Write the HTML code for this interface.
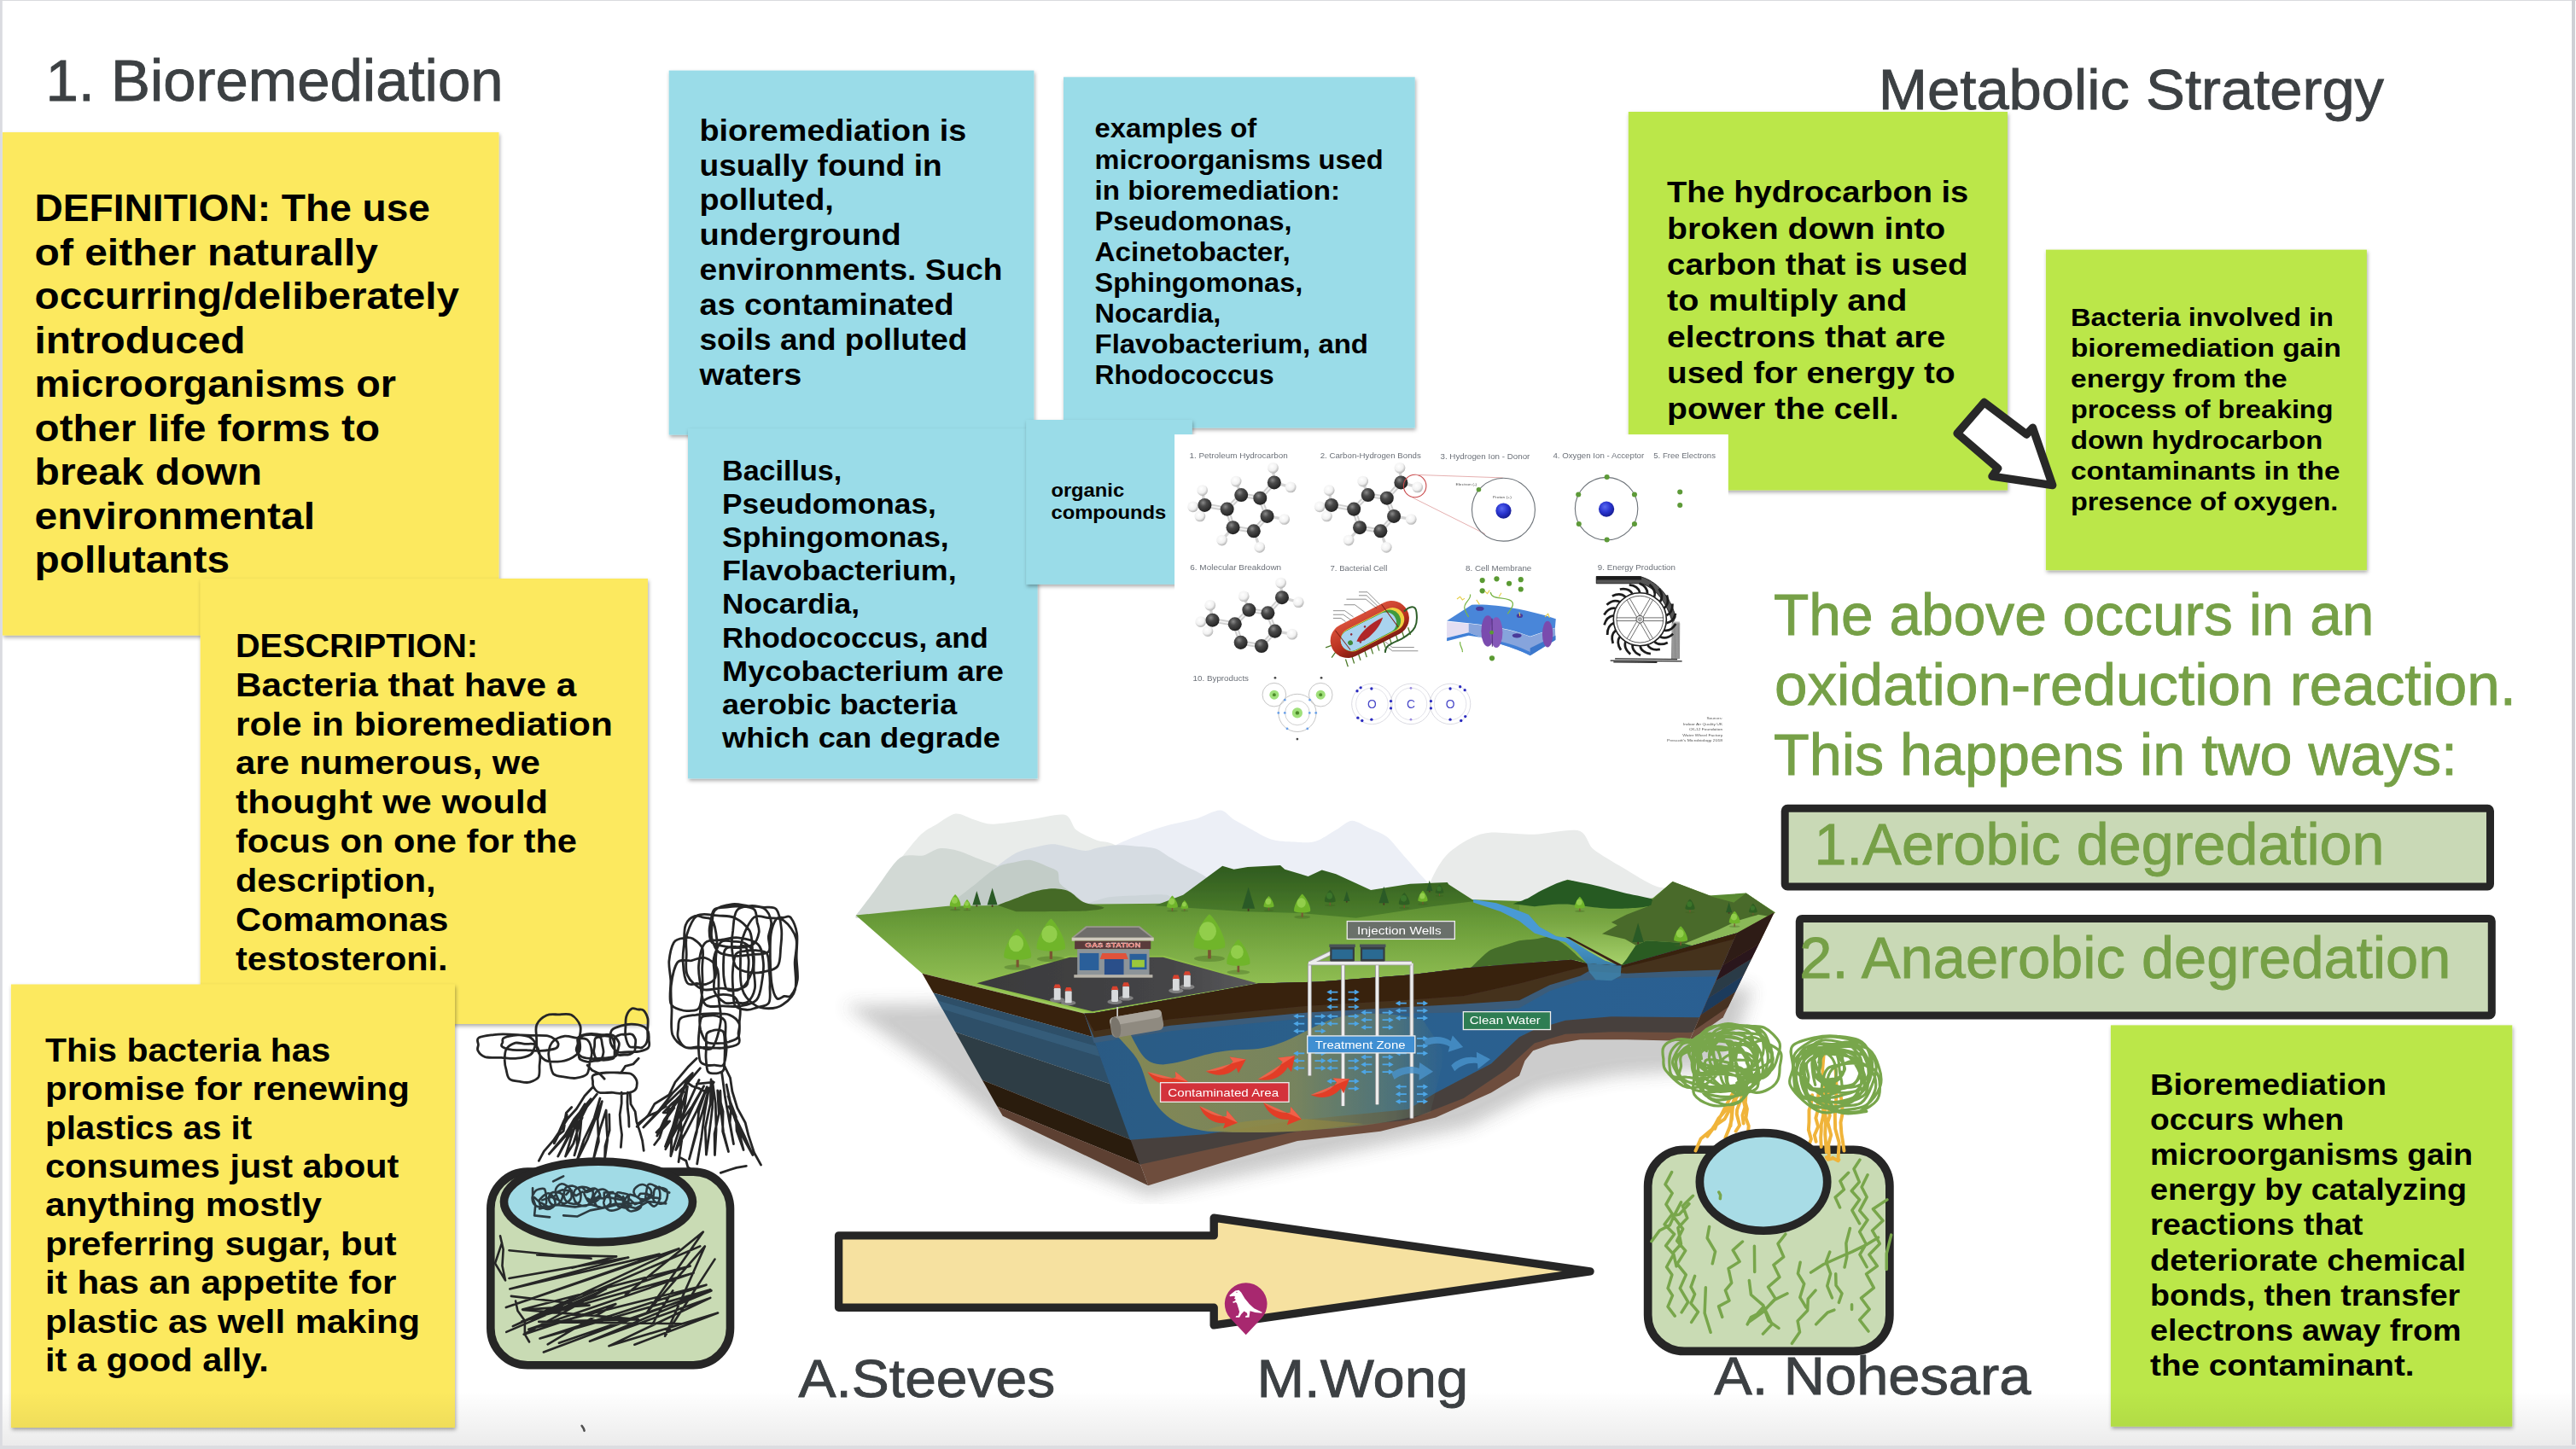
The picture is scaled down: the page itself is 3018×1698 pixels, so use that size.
<!DOCTYPE html>
<html><head><meta charset="utf-8"><title>Bioremediation</title>
<style>
html,body{margin:0;padding:0;background:#fff;}
body{width:3018px;height:1698px;overflow:hidden;position:relative;font-family:"Liberation Sans",sans-serif;}
svg{position:absolute;left:0;top:0;display:block;}
svg text{font-family:"Liberation Sans",sans-serif;}
</style></head><body>
<svg width="3018" height="1698" viewBox="0 0 3018 1698">
<defs>
<filter id="sh" x="-5%" y="-5%" width="112%" height="112%"><feDropShadow dx="1" dy="2.5" stdDeviation="2.2" flood-color="#000" flood-opacity="0.33"/></filter>
<linearGradient id="botfade" x1="0" y1="0" x2="0" y2="1"><stop offset="0" stop-color="#000" stop-opacity="0"/><stop offset="1" stop-color="#000" stop-opacity="0.08"/></linearGradient>

<radialGradient id="gC" cx="0.38" cy="0.32" r="0.75"><stop offset="0" stop-color="#8a8a8a"/><stop offset="0.35" stop-color="#4a4a4a"/><stop offset="1" stop-color="#1c1c1c"/></radialGradient>
<radialGradient id="gH" cx="0.4" cy="0.35" r="0.75"><stop offset="0" stop-color="#ffffff"/><stop offset="0.55" stop-color="#f1f1f1"/><stop offset="1" stop-color="#9c9c9c"/></radialGradient>
<radialGradient id="gN" cx="0.4" cy="0.35" r="0.7"><stop offset="0" stop-color="#5a6af0"/><stop offset="0.5" stop-color="#2a35d0"/><stop offset="1" stop-color="#141a8a"/></radialGradient>
<filter id="blr" x="-2%" y="-2%" width="104%" height="104%"><feGaussianBlur stdDeviation="1.6"/></filter>
<linearGradient id="gRed" x1="0" y1="0" x2="0" y2="1"><stop offset="0" stop-color="#d8503a"/><stop offset="0.6" stop-color="#b8301f"/><stop offset="1" stop-color="#7e1d12"/></linearGradient>

<linearGradient id="lgGrass" x1="0" y1="0" x2="0" y2="1"><stop offset="0" stop-color="#4f7f2c"/><stop offset="0.35" stop-color="#6c9e3a"/><stop offset="1" stop-color="#a3cf60"/></linearGradient>
<linearGradient id="lgHill" x1="0" y1="0" x2="0" y2="1"><stop offset="0" stop-color="#2f5a1e"/><stop offset="1" stop-color="#4d7f2c"/></linearGradient>
<linearGradient id="lgWater" x1="0" y1="0" x2="1" y2="0"><stop offset="0" stop-color="#2a5a84"/><stop offset="0.55" stop-color="#2b618f"/><stop offset="1" stop-color="#2c5f92"/></linearGradient>
<linearGradient id="lgPlume" x1="0" y1="0" x2="1" y2="0"><stop offset="0" stop-color="#8c8c50" stop-opacity="0.92"/><stop offset="0.55" stop-color="#848a56" stop-opacity="0.85"/><stop offset="0.85" stop-color="#6f8468" stop-opacity="0.5"/><stop offset="1" stop-color="#5c7f7a" stop-opacity="0"/></linearGradient>
<linearGradient id="lgAsph" x1="0" y1="0" x2="1" y2="0"><stop offset="0" stop-color="#3a3a3c"/><stop offset="0.7" stop-color="#454547"/><stop offset="1" stop-color="#5a5a5c"/></linearGradient>
<linearGradient id="lgGrass2" x1="0" y1="0" x2="0" y2="1"><stop offset="0" stop-color="#5b8c32"/><stop offset="0.5" stop-color="#7aa844"/><stop offset="1" stop-color="#a8d26c"/></linearGradient>
<linearGradient id="lgRiver" x1="0" y1="0" x2="0" y2="1"><stop offset="0" stop-color="#4a9ad6"/><stop offset="0.6" stop-color="#489ad2"/><stop offset="1" stop-color="#3a7ea8"/></linearGradient>
<filter id="lsh" x="-20%" y="-20%" width="140%" height="140%"><feGaussianBlur stdDeviation="22"/></filter>
<filter id="lbl" x="-2%" y="-2%" width="104%" height="104%"><feGaussianBlur stdDeviation="0.9"/></filter>

</defs>
<rect width="3018" height="1698" fill="#fff"/>
<!-- title1 -->
<text x="53.5" y="118.0" font-size="69" font-weight="normal" fill="#3c4043" textLength="536.0" lengthAdjust="spacingAndGlyphs" stroke="#3c4043" stroke-width="0.9">1. Bioremediation</text>
<!-- title2 -->
<text x="2200.8" y="127.5" font-size="67" font-weight="normal" fill="#3c4043" textLength="592.2" lengthAdjust="spacingAndGlyphs" stroke="#3c4043" stroke-width="0.9">Metabolic Stratergy</text>
<!-- y1 -->
<rect x="3.0" y="155.0" width="581.5" height="589.6" fill="#fce95f" filter="url(#sh)"/><text x="40.6" y="259.0" font-size="43.57" font-weight="bold" fill="#000" textLength="463.4" lengthAdjust="spacingAndGlyphs">DEFINITION: The use</text>
<text x="40.6" y="310.5" font-size="43.57" font-weight="bold" fill="#000" textLength="402.4" lengthAdjust="spacingAndGlyphs">of either naturally</text>
<text x="40.6" y="362.1" font-size="43.57" font-weight="bold" fill="#000" textLength="497.4" lengthAdjust="spacingAndGlyphs">occurring/deliberately</text>
<text x="40.6" y="413.6" font-size="43.57" font-weight="bold" fill="#000" textLength="246.9" lengthAdjust="spacingAndGlyphs">introduced</text>
<text x="40.6" y="465.2" font-size="43.57" font-weight="bold" fill="#000" textLength="423.4" lengthAdjust="spacingAndGlyphs">microorganisms or</text>
<text x="40.6" y="516.7" font-size="43.57" font-weight="bold" fill="#000" textLength="404.4" lengthAdjust="spacingAndGlyphs">other life forms to</text>
<text x="40.6" y="568.2" font-size="43.57" font-weight="bold" fill="#000" textLength="266.4" lengthAdjust="spacingAndGlyphs">break down</text>
<text x="40.6" y="619.8" font-size="43.57" font-weight="bold" fill="#000" textLength="328.4" lengthAdjust="spacingAndGlyphs">environmental</text>
<text x="40.6" y="671.3" font-size="43.57" font-weight="bold" fill="#000" textLength="228.4" lengthAdjust="spacingAndGlyphs">pollutants</text>
<!-- y2 -->
<rect x="234.7" y="678.0" width="524.3" height="522.0" fill="#fce95f" filter="url(#sh)"/><text x="276.0" y="769.8" font-size="38.62" font-weight="bold" fill="#000" textLength="284.0" lengthAdjust="spacingAndGlyphs">DESCRIPTION:</text>
<text x="276.0" y="815.7" font-size="38.62" font-weight="bold" fill="#000" textLength="399.3" lengthAdjust="spacingAndGlyphs">Bacteria that have a</text>
<text x="276.0" y="861.6" font-size="38.62" font-weight="bold" fill="#000" textLength="441.8" lengthAdjust="spacingAndGlyphs">role in bioremediation</text>
<text x="276.0" y="907.4" font-size="38.62" font-weight="bold" fill="#000" textLength="356.8" lengthAdjust="spacingAndGlyphs">are numerous, we</text>
<text x="276.0" y="953.3" font-size="38.62" font-weight="bold" fill="#000" textLength="366.0" lengthAdjust="spacingAndGlyphs">thought we would</text>
<text x="276.0" y="999.2" font-size="38.62" font-weight="bold" fill="#000" textLength="400.0" lengthAdjust="spacingAndGlyphs">focus on one for the</text>
<text x="276.0" y="1045.1" font-size="38.62" font-weight="bold" fill="#000" textLength="234.6" lengthAdjust="spacingAndGlyphs">description,</text>
<text x="276.0" y="1091.0" font-size="38.62" font-weight="bold" fill="#000" textLength="249.3" lengthAdjust="spacingAndGlyphs">Comamonas</text>
<text x="276.0" y="1136.8" font-size="38.62" font-weight="bold" fill="#000" textLength="248.5" lengthAdjust="spacingAndGlyphs">testosteroni.</text>
<!-- y3 -->
<rect x="12.9" y="1153.5" width="520.1" height="519.5" fill="#fce95f" filter="url(#sh)"/><text x="53.0" y="1243.7" font-size="38.42" font-weight="bold" fill="#000" textLength="334.3" lengthAdjust="spacingAndGlyphs">This bacteria has</text>
<text x="53.0" y="1289.1" font-size="38.42" font-weight="bold" fill="#000" textLength="426.8" lengthAdjust="spacingAndGlyphs">promise for renewing</text>
<text x="53.0" y="1334.5" font-size="38.42" font-weight="bold" fill="#000" textLength="242.2" lengthAdjust="spacingAndGlyphs">plastics as it</text>
<text x="53.0" y="1380.0" font-size="38.42" font-weight="bold" fill="#000" textLength="414.3" lengthAdjust="spacingAndGlyphs">consumes just about</text>
<text x="53.0" y="1425.4" font-size="38.42" font-weight="bold" fill="#000" textLength="324.1" lengthAdjust="spacingAndGlyphs">anything mostly</text>
<text x="53.0" y="1470.8" font-size="38.42" font-weight="bold" fill="#000" textLength="411.5" lengthAdjust="spacingAndGlyphs">preferring sugar, but</text>
<text x="53.0" y="1516.2" font-size="38.42" font-weight="bold" fill="#000" textLength="411.5" lengthAdjust="spacingAndGlyphs">it has an appetite for</text>
<text x="53.0" y="1561.6" font-size="38.42" font-weight="bold" fill="#000" textLength="439.0" lengthAdjust="spacingAndGlyphs">plastic as well making</text>
<text x="53.0" y="1607.1" font-size="38.42" font-weight="bold" fill="#000" textLength="261.8" lengthAdjust="spacingAndGlyphs">it a good ally.</text>
<!-- b1 -->
<rect x="783.7" y="82.6" width="427.7" height="427.0" fill="#9adce8" filter="url(#sh)"/><text x="819.5" y="164.7" font-size="34.51" font-weight="bold" fill="#000" textLength="312.7" lengthAdjust="spacingAndGlyphs">bioremediation is</text>
<text x="819.5" y="205.5" font-size="34.51" font-weight="bold" fill="#000" textLength="284.2" lengthAdjust="spacingAndGlyphs">usually found in</text>
<text x="819.5" y="246.4" font-size="34.51" font-weight="bold" fill="#000" textLength="157.3" lengthAdjust="spacingAndGlyphs">polluted,</text>
<text x="819.5" y="287.2" font-size="34.51" font-weight="bold" fill="#000" textLength="236.1" lengthAdjust="spacingAndGlyphs">underground</text>
<text x="819.5" y="328.0" font-size="34.51" font-weight="bold" fill="#000" textLength="355.0" lengthAdjust="spacingAndGlyphs">environments. Such</text>
<text x="819.5" y="368.8" font-size="34.51" font-weight="bold" fill="#000" textLength="298.1" lengthAdjust="spacingAndGlyphs">as contaminated</text>
<text x="819.5" y="409.7" font-size="34.51" font-weight="bold" fill="#000" textLength="313.8" lengthAdjust="spacingAndGlyphs">soils and polluted</text>
<text x="819.5" y="450.5" font-size="34.51" font-weight="bold" fill="#000" textLength="119.7" lengthAdjust="spacingAndGlyphs">waters</text>
<!-- b2 -->
<rect x="1246.0" y="90.3" width="411.7" height="411.2" fill="#9adce8" filter="url(#sh)"/><text x="1282.5" y="161.4" font-size="30.49" font-weight="bold" fill="#000" textLength="189.8" lengthAdjust="spacingAndGlyphs">examples of</text>
<text x="1282.5" y="197.5" font-size="30.49" font-weight="bold" fill="#000" textLength="338.0" lengthAdjust="spacingAndGlyphs">microorganisms used</text>
<text x="1282.5" y="233.6" font-size="30.49" font-weight="bold" fill="#000" textLength="287.5" lengthAdjust="spacingAndGlyphs">in bioremediation:</text>
<text x="1282.5" y="269.6" font-size="30.49" font-weight="bold" fill="#000" textLength="231.0" lengthAdjust="spacingAndGlyphs">Pseudomonas,</text>
<text x="1282.5" y="305.7" font-size="30.49" font-weight="bold" fill="#000" textLength="229.2" lengthAdjust="spacingAndGlyphs">Acinetobacter,</text>
<text x="1282.5" y="341.8" font-size="30.49" font-weight="bold" fill="#000" textLength="243.8" lengthAdjust="spacingAndGlyphs">Sphingomonas,</text>
<text x="1282.5" y="377.9" font-size="30.49" font-weight="bold" fill="#000" textLength="147.8" lengthAdjust="spacingAndGlyphs">Nocardia,</text>
<text x="1282.5" y="414.0" font-size="30.49" font-weight="bold" fill="#000" textLength="320.5" lengthAdjust="spacingAndGlyphs">Flavobacterium, and</text>
<text x="1282.5" y="450.0" font-size="30.49" font-weight="bold" fill="#000" textLength="210.2" lengthAdjust="spacingAndGlyphs">Rhodococcus</text>
<!-- b3 -->
<rect x="806.0" y="502.2" width="409.6" height="410.2" fill="#9adce8" filter="url(#sh)"/><text x="846.0" y="563.2" font-size="32.96" font-weight="bold" fill="#000" textLength="140.3" lengthAdjust="spacingAndGlyphs">Bacillus,</text>
<text x="846.0" y="602.2" font-size="32.96" font-weight="bold" fill="#000" textLength="250.8" lengthAdjust="spacingAndGlyphs">Pseudomonas,</text>
<text x="846.0" y="641.3" font-size="32.96" font-weight="bold" fill="#000" textLength="265.7" lengthAdjust="spacingAndGlyphs">Sphingomonas,</text>
<text x="846.0" y="680.4" font-size="32.96" font-weight="bold" fill="#000" textLength="274.6" lengthAdjust="spacingAndGlyphs">Flavobacterium,</text>
<text x="846.0" y="719.4" font-size="32.96" font-weight="bold" fill="#000" textLength="161.0" lengthAdjust="spacingAndGlyphs">Nocardia,</text>
<text x="846.0" y="758.5" font-size="32.96" font-weight="bold" fill="#000" textLength="311.8" lengthAdjust="spacingAndGlyphs">Rhodococcus, and</text>
<text x="846.0" y="797.5" font-size="32.96" font-weight="bold" fill="#000" textLength="329.9" lengthAdjust="spacingAndGlyphs">Mycobacterium are</text>
<text x="846.0" y="836.5" font-size="32.96" font-weight="bold" fill="#000" textLength="275.3" lengthAdjust="spacingAndGlyphs">aerobic bacteria</text>
<text x="846.0" y="875.6" font-size="32.96" font-weight="bold" fill="#000" textLength="326.0" lengthAdjust="spacingAndGlyphs">which can degrade</text>
<!-- b4 -->
<rect x="1202.2" y="492.0" width="194.6" height="192.8" fill="#9adce8" filter="url(#sh)"/><text x="1231.4" y="581.6" font-size="21.94" font-weight="bold" fill="#000" textLength="85.7" lengthAdjust="spacingAndGlyphs">organic</text>
<text x="1231.4" y="607.6" font-size="21.94" font-weight="bold" fill="#000" textLength="134.9" lengthAdjust="spacingAndGlyphs">compounds</text>
<!-- g1 -->
<rect x="1907.8" y="131.0" width="444.2" height="443.5" fill="#bbe74a" filter="url(#sh)"/><text x="1953.1" y="237.4" font-size="35.74" font-weight="bold" fill="#000" textLength="353.2" lengthAdjust="spacingAndGlyphs">The hydrocarbon is</text>
<text x="1953.1" y="279.7" font-size="35.74" font-weight="bold" fill="#000" textLength="326.2" lengthAdjust="spacingAndGlyphs">broken down into</text>
<text x="1953.1" y="321.9" font-size="35.74" font-weight="bold" fill="#000" textLength="352.3" lengthAdjust="spacingAndGlyphs">carbon that is used</text>
<text x="1953.1" y="364.2" font-size="35.74" font-weight="bold" fill="#000" textLength="281.4" lengthAdjust="spacingAndGlyphs">to multiply and</text>
<text x="1953.1" y="406.5" font-size="35.74" font-weight="bold" fill="#000" textLength="326.2" lengthAdjust="spacingAndGlyphs">electrons that are</text>
<text x="1953.1" y="448.8" font-size="35.74" font-weight="bold" fill="#000" textLength="337.5" lengthAdjust="spacingAndGlyphs">used for energy to</text>
<text x="1953.1" y="491.0" font-size="35.74" font-weight="bold" fill="#000" textLength="271.5" lengthAdjust="spacingAndGlyphs">power the cell.</text>
<!-- molecules -->
<g transform="translate(1370,500) scale(0.27606)" filter="url(#blr)"><rect x="22" y="33" width="2350" height="1400" fill="#fff"/><text x="85" y="133" font-size="33" fill="#6b7078" textLength="418" lengthAdjust="spacingAndGlyphs">1. Petroleum Hydrocarbon</text><text x="640" y="135" font-size="33" fill="#6b7078" textLength="428" lengthAdjust="spacingAndGlyphs">2. Carbon-Hydrogen Bonds</text><text x="1150" y="137" font-size="33" fill="#6b7078" textLength="380" lengthAdjust="spacingAndGlyphs">3. Hydrogen Ion - Donor</text><text x="1628" y="135" font-size="33" fill="#6b7078" textLength="387" lengthAdjust="spacingAndGlyphs">4. Oxygen Ion - Acceptor</text><text x="2055" y="135" font-size="33" fill="#6b7078" textLength="263" lengthAdjust="spacingAndGlyphs">5. Free Electrons</text><text x="88" y="610" font-size="33" fill="#6b7078" textLength="387" lengthAdjust="spacingAndGlyphs">6. Molecular Breakdown</text><text x="683" y="613" font-size="33" fill="#6b7078" textLength="242" lengthAdjust="spacingAndGlyphs">7. Bacterial Cell</text><text x="1257" y="613" font-size="33" fill="#6b7078" textLength="280" lengthAdjust="spacingAndGlyphs">8. Cell Membrane</text><text x="1818" y="608" font-size="33" fill="#6b7078" textLength="330" lengthAdjust="spacingAndGlyphs">9. Energy Production</text><text x="100" y="1080" font-size="33" fill="#6b7078" textLength="237" lengthAdjust="spacingAndGlyphs">10. Byproducts</text><g transform="translate(0,0)"><line x1="150" y1="333" x2="245" y2="350" stroke="#cfcfcf" stroke-width="20"/><line x1="150" y1="333" x2="245" y2="350" stroke="#f4f4f4" stroke-width="6"/><line x1="245" y1="350" x2="305" y2="290" stroke="#cfcfcf" stroke-width="20"/><line x1="245" y1="350" x2="305" y2="290" stroke="#f4f4f4" stroke-width="6"/><line x1="305" y1="290" x2="385" y2="303" stroke="#cfcfcf" stroke-width="20"/><line x1="305" y1="290" x2="385" y2="303" stroke="#f4f4f4" stroke-width="6"/><line x1="385" y1="303" x2="415" y2="380" stroke="#cfcfcf" stroke-width="20"/><line x1="385" y1="303" x2="415" y2="380" stroke="#f4f4f4" stroke-width="6"/><line x1="415" y1="380" x2="358" y2="443" stroke="#cfcfcf" stroke-width="20"/><line x1="415" y1="380" x2="358" y2="443" stroke="#f4f4f4" stroke-width="6"/><line x1="358" y1="443" x2="270" y2="428" stroke="#cfcfcf" stroke-width="20"/><line x1="358" y1="443" x2="270" y2="428" stroke="#f4f4f4" stroke-width="6"/><line x1="270" y1="428" x2="245" y2="350" stroke="#cfcfcf" stroke-width="20"/><line x1="270" y1="428" x2="245" y2="350" stroke="#f4f4f4" stroke-width="6"/><line x1="385" y1="303" x2="445" y2="237" stroke="#cfcfcf" stroke-width="20"/><line x1="385" y1="303" x2="445" y2="237" stroke="#f4f4f4" stroke-width="6"/><line x1="150" y1="333" x2="140" y2="270" stroke="#d4d4d4" stroke-width="12"/><line x1="150" y1="333" x2="100" y2="340" stroke="#d4d4d4" stroke-width="12"/><line x1="150" y1="333" x2="130" y2="380" stroke="#d4d4d4" stroke-width="12"/><line x1="305" y1="290" x2="283" y2="232" stroke="#d4d4d4" stroke-width="12"/><line x1="445" y1="237" x2="440" y2="175" stroke="#d4d4d4" stroke-width="12"/><line x1="445" y1="237" x2="515" y2="257" stroke="#d4d4d4" stroke-width="12"/><line x1="415" y1="380" x2="488" y2="393" stroke="#d4d4d4" stroke-width="12"/><line x1="358" y1="443" x2="383" y2="512" stroke="#d4d4d4" stroke-width="12"/><line x1="270" y1="428" x2="223" y2="482" stroke="#d4d4d4" stroke-width="12"/><circle cx="140" cy="270" r="23" fill="url(#gH)"/><circle cx="100" cy="340" r="23" fill="url(#gH)"/><circle cx="130" cy="380" r="23" fill="url(#gH)"/><circle cx="283" cy="232" r="23" fill="url(#gH)"/><circle cx="440" cy="175" r="23" fill="url(#gH)"/><circle cx="515" cy="257" r="23" fill="url(#gH)"/><circle cx="488" cy="393" r="23" fill="url(#gH)"/><circle cx="383" cy="512" r="23" fill="url(#gH)"/><circle cx="223" cy="482" r="23" fill="url(#gH)"/><circle cx="150" cy="333" r="29" fill="url(#gC)"/><circle cx="245" cy="350" r="29" fill="url(#gC)"/><circle cx="305" cy="290" r="29" fill="url(#gC)"/><circle cx="385" cy="303" r="29" fill="url(#gC)"/><circle cx="415" cy="380" r="29" fill="url(#gC)"/><circle cx="358" cy="443" r="29" fill="url(#gC)"/><circle cx="270" cy="428" r="29" fill="url(#gC)"/><circle cx="445" cy="237" r="29" fill="url(#gC)"/></g><g transform="translate(538,0)"><line x1="150" y1="333" x2="245" y2="350" stroke="#cfcfcf" stroke-width="20"/><line x1="150" y1="333" x2="245" y2="350" stroke="#f4f4f4" stroke-width="6"/><line x1="245" y1="350" x2="305" y2="290" stroke="#cfcfcf" stroke-width="20"/><line x1="245" y1="350" x2="305" y2="290" stroke="#f4f4f4" stroke-width="6"/><line x1="305" y1="290" x2="385" y2="303" stroke="#cfcfcf" stroke-width="20"/><line x1="305" y1="290" x2="385" y2="303" stroke="#f4f4f4" stroke-width="6"/><line x1="385" y1="303" x2="415" y2="380" stroke="#cfcfcf" stroke-width="20"/><line x1="385" y1="303" x2="415" y2="380" stroke="#f4f4f4" stroke-width="6"/><line x1="415" y1="380" x2="358" y2="443" stroke="#cfcfcf" stroke-width="20"/><line x1="415" y1="380" x2="358" y2="443" stroke="#f4f4f4" stroke-width="6"/><line x1="358" y1="443" x2="270" y2="428" stroke="#cfcfcf" stroke-width="20"/><line x1="358" y1="443" x2="270" y2="428" stroke="#f4f4f4" stroke-width="6"/><line x1="270" y1="428" x2="245" y2="350" stroke="#cfcfcf" stroke-width="20"/><line x1="270" y1="428" x2="245" y2="350" stroke="#f4f4f4" stroke-width="6"/><line x1="385" y1="303" x2="445" y2="237" stroke="#cfcfcf" stroke-width="20"/><line x1="385" y1="303" x2="445" y2="237" stroke="#f4f4f4" stroke-width="6"/><line x1="150" y1="333" x2="140" y2="270" stroke="#d4d4d4" stroke-width="12"/><line x1="150" y1="333" x2="100" y2="340" stroke="#d4d4d4" stroke-width="12"/><line x1="150" y1="333" x2="130" y2="380" stroke="#d4d4d4" stroke-width="12"/><line x1="305" y1="290" x2="283" y2="232" stroke="#d4d4d4" stroke-width="12"/><line x1="445" y1="237" x2="440" y2="175" stroke="#d4d4d4" stroke-width="12"/><line x1="445" y1="237" x2="515" y2="257" stroke="#d4d4d4" stroke-width="12"/><line x1="415" y1="380" x2="488" y2="393" stroke="#d4d4d4" stroke-width="12"/><line x1="358" y1="443" x2="383" y2="512" stroke="#d4d4d4" stroke-width="12"/><line x1="270" y1="428" x2="223" y2="482" stroke="#d4d4d4" stroke-width="12"/><circle cx="140" cy="270" r="23" fill="url(#gH)"/><circle cx="100" cy="340" r="23" fill="url(#gH)"/><circle cx="130" cy="380" r="23" fill="url(#gH)"/><circle cx="283" cy="232" r="23" fill="url(#gH)"/><circle cx="440" cy="175" r="23" fill="url(#gH)"/><circle cx="515" cy="257" r="23" fill="url(#gH)"/><circle cx="488" cy="393" r="23" fill="url(#gH)"/><circle cx="383" cy="512" r="23" fill="url(#gH)"/><circle cx="223" cy="482" r="23" fill="url(#gH)"/><circle cx="150" cy="333" r="29" fill="url(#gC)"/><circle cx="245" cy="350" r="29" fill="url(#gC)"/><circle cx="305" cy="290" r="29" fill="url(#gC)"/><circle cx="385" cy="303" r="29" fill="url(#gC)"/><circle cx="415" cy="380" r="29" fill="url(#gC)"/><circle cx="358" cy="443" r="29" fill="url(#gC)"/><circle cx="270" cy="428" r="29" fill="url(#gC)"/><circle cx="445" cy="237" r="29" fill="url(#gC)"/></g><g transform="translate(33,488)"><line x1="150" y1="333" x2="245" y2="350" stroke="#cfcfcf" stroke-width="20"/><line x1="150" y1="333" x2="245" y2="350" stroke="#f4f4f4" stroke-width="6"/><line x1="245" y1="350" x2="305" y2="290" stroke="#cfcfcf" stroke-width="20"/><line x1="245" y1="350" x2="305" y2="290" stroke="#f4f4f4" stroke-width="6"/><line x1="305" y1="290" x2="385" y2="303" stroke="#cfcfcf" stroke-width="20"/><line x1="305" y1="290" x2="385" y2="303" stroke="#f4f4f4" stroke-width="6"/><line x1="385" y1="303" x2="415" y2="380" stroke="#cfcfcf" stroke-width="20"/><line x1="385" y1="303" x2="415" y2="380" stroke="#f4f4f4" stroke-width="6"/><line x1="415" y1="380" x2="358" y2="443" stroke="#cfcfcf" stroke-width="20"/><line x1="415" y1="380" x2="358" y2="443" stroke="#f4f4f4" stroke-width="6"/><line x1="358" y1="443" x2="270" y2="428" stroke="#cfcfcf" stroke-width="20"/><line x1="358" y1="443" x2="270" y2="428" stroke="#f4f4f4" stroke-width="6"/><line x1="270" y1="428" x2="245" y2="350" stroke="#cfcfcf" stroke-width="20"/><line x1="270" y1="428" x2="245" y2="350" stroke="#f4f4f4" stroke-width="6"/><line x1="385" y1="303" x2="445" y2="237" stroke="#cfcfcf" stroke-width="20"/><line x1="385" y1="303" x2="445" y2="237" stroke="#f4f4f4" stroke-width="6"/><line x1="150" y1="333" x2="140" y2="270" stroke="#d4d4d4" stroke-width="12"/><line x1="150" y1="333" x2="100" y2="340" stroke="#d4d4d4" stroke-width="12"/><line x1="150" y1="333" x2="130" y2="380" stroke="#d4d4d4" stroke-width="12"/><line x1="305" y1="290" x2="283" y2="232" stroke="#d4d4d4" stroke-width="12"/><line x1="445" y1="237" x2="440" y2="175" stroke="#d4d4d4" stroke-width="12"/><line x1="445" y1="237" x2="515" y2="257" stroke="#d4d4d4" stroke-width="12"/><line x1="415" y1="380" x2="488" y2="393" stroke="#d4d4d4" stroke-width="12"/><circle cx="140" cy="270" r="23" fill="url(#gH)"/><circle cx="100" cy="340" r="23" fill="url(#gH)"/><circle cx="130" cy="380" r="23" fill="url(#gH)"/><circle cx="283" cy="232" r="23" fill="url(#gH)"/><circle cx="440" cy="175" r="23" fill="url(#gH)"/><circle cx="515" cy="257" r="23" fill="url(#gH)"/><circle cx="488" cy="393" r="23" fill="url(#gH)"/><circle cx="150" cy="333" r="29" fill="url(#gC)"/><circle cx="245" cy="350" r="29" fill="url(#gC)"/><circle cx="305" cy="290" r="29" fill="url(#gC)"/><circle cx="385" cy="303" r="29" fill="url(#gC)"/><circle cx="415" cy="380" r="29" fill="url(#gC)"/><circle cx="358" cy="443" r="29" fill="url(#gC)"/><circle cx="270" cy="428" r="29" fill="url(#gC)"/><circle cx="445" cy="237" r="29" fill="url(#gC)"/></g><circle cx="1042" cy="252" r="48" fill="none" stroke="#c9484a" stroke-width="4"/><path d="M1042,204 L1415,217 M1030,300 L1340,455" stroke="#e0a0a0" stroke-width="3" fill="none"/><circle cx="1418" cy="352" r="134" fill="none" stroke="#6d7379" stroke-width="4"/><circle cx="1418" cy="357" r="33" fill="url(#gN)"/><circle cx="1313" cy="267" r="10" fill="#5d9a38"/><text x="1215" y="250" font-size="15" fill="#555" textLength="90" lengthAdjust="spacingAndGlyphs">Electron (-)</text><text x="1372" y="306" font-size="15" fill="#555" textLength="80" lengthAdjust="spacingAndGlyphs">Proton (+)</text><circle cx="1855" cy="348" r="133" fill="none" stroke="#6d7379" stroke-width="4"/><circle cx="1855" cy="350" r="33" fill="url(#gN)"/><circle cx="1857" cy="214" r="11" fill="#5d9a38"/><circle cx="1974" cy="288" r="11" fill="#5d9a38"/><circle cx="1974" cy="413" r="11" fill="#5d9a38"/><circle cx="1857" cy="480" r="11" fill="#5d9a38"/><circle cx="1738" cy="413" r="11" fill="#5d9a38"/><circle cx="1736" cy="288" r="11" fill="#5d9a38"/><circle cx="2167" cy="277" r="11" fill="#5d9a38"/><circle cx="2167" cy="333" r="11" fill="#5d9a38"/><circle cx="445" cy="1138" r="50" fill="none" stroke="#b9b9b9" stroke-width="3"/><circle cx="445" cy="1138" r="20" fill="#9fe07a"/><circle cx="445" cy="1138" r="7" fill="#4d8a2a"/><circle cx="642" cy="1138" r="50" fill="none" stroke="#b9b9b9" stroke-width="3"/><circle cx="642" cy="1138" r="20" fill="#9fe07a"/><circle cx="642" cy="1138" r="7" fill="#4d8a2a"/><circle cx="543" cy="1215" r="80" fill="none" stroke="#b9b9b9" stroke-width="3"/><circle cx="543" cy="1215" r="52" fill="none" stroke="#c6c6c6" stroke-width="3"/><circle cx="543" cy="1215" r="22" fill="#9fe07a"/><circle cx="543" cy="1215" r="8" fill="#4d8a2a"/><circle cx="463" cy="1215" r="5" fill="#6aa0e8"/><circle cx="490" cy="1215" r="5" fill="#6aa0e8"/><circle cx="595" cy="1215" r="5" fill="#6aa0e8"/><circle cx="622" cy="1215" r="5" fill="#6aa0e8"/><circle cx="490" cy="1160" r="5" fill="#6aa0e8"/><circle cx="596" cy="1160" r="5" fill="#6aa0e8"/><circle cx="500" cy="1282" r="5" fill="#6aa0e8"/><circle cx="586" cy="1282" r="5" fill="#6aa0e8"/><circle cx="449" cy="1066" r="5" fill="#444"/><circle cx="645" cy="1066" r="5" fill="#444"/><circle cx="543" cy="1326" r="5" fill="#444"/><circle cx="860" cy="1177" r="86" fill="none" stroke="#d4d4dc" stroke-width="3"/><circle cx="860" cy="1177" r="68" fill="none" stroke="#dcdce4" stroke-width="3"/><text x="860" y="1195" font-size="50" fill="#4848c8" text-anchor="middle">O</text><circle cx="1025" cy="1177" r="86" fill="none" stroke="#d4d4dc" stroke-width="3"/><circle cx="1025" cy="1177" r="68" fill="none" stroke="#dcdce4" stroke-width="3"/><text x="1025" y="1195" font-size="50" fill="#4848c8" text-anchor="middle">C</text><circle cx="1192" cy="1177" r="86" fill="none" stroke="#d4d4dc" stroke-width="3"/><circle cx="1192" cy="1177" r="68" fill="none" stroke="#dcdce4" stroke-width="3"/><text x="1192" y="1195" font-size="50" fill="#4848c8" text-anchor="middle">O</text><circle cx="797" cy="1122" r="6" fill="#2a2ac0"/><circle cx="812" cy="1108" r="6" fill="#2a2ac0"/><circle cx="858" cy="1112" r="6" fill="#2a2ac0"/><circle cx="800" cy="1236" r="6" fill="#2a2ac0"/><circle cx="818" cy="1248" r="6" fill="#2a2ac0"/><circle cx="858" cy="1243" r="6" fill="#2a2ac0"/><circle cx="940" cy="1165" r="6" fill="#2a2ac0"/><circle cx="940" cy="1195" r="6" fill="#2a2ac0"/><circle cx="1110" cy="1165" r="6" fill="#2a2ac0"/><circle cx="1110" cy="1195" r="6" fill="#2a2ac0"/><circle cx="1192" cy="1112" r="6" fill="#2a2ac0"/><circle cx="1234" cy="1104" r="6" fill="#2a2ac0"/><circle cx="1254" cy="1118" r="6" fill="#2a2ac0"/><circle cx="1192" cy="1243" r="6" fill="#2a2ac0"/><circle cx="1238" cy="1248" r="6" fill="#2a2ac0"/><circle cx="1256" cy="1230" r="6" fill="#2a2ac0"/><circle cx="1025" cy="1110" r="5" fill="#9a8ae0"/><circle cx="1025" cy="1243" r="5" fill="#9a8ae0"/><text x="2280" y="1243.0" font-size="14" fill="#555" textLength="68" lengthAdjust="spacingAndGlyphs">Sources:</text><text x="2180" y="1266.5" font-size="14" fill="#555" textLength="168" lengthAdjust="spacingAndGlyphs">Indoor Air Quality UK</text><text x="2205" y="1290.0" font-size="14" fill="#555" textLength="143" lengthAdjust="spacingAndGlyphs">CK-12 Foundation</text><text x="2178" y="1313.5" font-size="14" fill="#555" textLength="170" lengthAdjust="spacingAndGlyphs">Water Wheel Factory</text><text x="2112" y="1337.0" font-size="14" fill="#555" textLength="236" lengthAdjust="spacingAndGlyphs">Prescott's Microbiology 2018</text></g><g transform="translate(1540,650) scale(0.18245)" filter="url(#blr)"><g transform="translate(355,480) rotate(-27)"><line x1="-225" y1="100" x2="-233" y2="150" stroke="#4d7a2a" stroke-width="7"/><line x1="-180" y1="100" x2="-188" y2="150" stroke="#4d7a2a" stroke-width="7"/><line x1="-135" y1="100" x2="-143" y2="150" stroke="#4d7a2a" stroke-width="7"/><line x1="-90" y1="100" x2="-98" y2="150" stroke="#4d7a2a" stroke-width="7"/><line x1="-45" y1="100" x2="-53" y2="150" stroke="#4d7a2a" stroke-width="7"/><line x1="0" y1="100" x2="-8" y2="150" stroke="#4d7a2a" stroke-width="7"/><line x1="45" y1="100" x2="37" y2="150" stroke="#4d7a2a" stroke-width="7"/><line x1="90" y1="100" x2="82" y2="150" stroke="#4d7a2a" stroke-width="7"/><line x1="135" y1="100" x2="127" y2="150" stroke="#4d7a2a" stroke-width="7"/><line x1="180" y1="100" x2="172" y2="150" stroke="#4d7a2a" stroke-width="7"/><line x1="225" y1="100" x2="217" y2="150" stroke="#4d7a2a" stroke-width="7"/><line x1="-260" y1="30" x2="-300" y2="50" stroke="#4d7a2a" stroke-width="7"/><line x1="-265" y1="-20" x2="-305" y2="-25" stroke="#4d7a2a" stroke-width="7"/><rect x="-270" y="-112" width="540" height="224" rx="112" fill="url(#gRed)"/><rect x="-205" y="-66" width="440" height="150" rx="75" fill="#f0d040"/><rect x="-205" y="-62" width="415" height="142" rx="71" fill="#3f9a3a"/><rect x="-205" y="-58" width="385" height="134" rx="67" fill="#a9d3ee"/><rect x="-205" y="-58" width="300" height="134" rx="67" fill="#a9d3ee"/><path d="M-110,30 C-60,-10 20,-35 110,-30 C80,0 40,25 -20,40 C-50,48 -90,50 -110,30Z" fill="#b0262a"/><circle cx="-150" cy="20" r="16" fill="#3f8a3a"/><circle cx="-120" cy="-25" r="7" fill="#8a2a3a"/><circle cx="-60" cy="40" r="7" fill="#8a2a3a"/><circle cx="-20" cy="-30" r="7" fill="#8a2a3a"/><circle cx="-90" cy="45" r="7" fill="#8a2a3a"/><path d="M-200,-95 L-170,60 M140,-110 L170,70" stroke="#7a2014" stroke-width="5" fill="none"/></g><path d="M575,365 C610,330 650,320 655,370 C665,450 650,490 560,540 C500,570 450,580 455,630" fill="none" stroke="#2f5f2a" stroke-width="11"/><path d="M285,240 L340,240 L420,320 M285,262 L335,262 L405,330 M205,286 L330,286 L400,345 M190,322 L260,322 L330,375 M120,360 L195,360 L250,400 M120,385 L185,385 L235,420 M120,408 L170,408 L200,430 M455,560 L500,595 L640,595 M465,590 L500,618 L665,618" fill="none" stroke="#333" stroke-width="3"/><path d="M850,425 L1010,322 C1100,315 1300,330 1550,412 L1545,470 L1385,525 C1300,490 1150,455 990,440 Z" fill="#4a86d9"/><path d="M850,430 L990,442 L990,500 L850,535 Z" fill="#e4def2"/><path d="M990,442 C1150,457 1300,492 1385,527 L1545,472 L1548,545 L1385,648 C1300,600 1150,565 990,500 Z" fill="#86a4dc"/><path d="M850,535 L990,500 C1150,565 1300,600 1385,648 L1385,625 C1300,580 1150,540 990,520 L850,555 Z" fill="#3f7fd6"/><path d="M1385,600 L1548,520 L1548,548 L1385,648Z" fill="#3b77cc"/><ellipse cx="1113" cy="490" rx="42" ry="100" fill="#7a4cae"/><ellipse cx="1168" cy="500" rx="40" ry="98" fill="#8558b8"/><path d="M1140,410 L1142,590" stroke="#54307e" stroke-width="6"/><ellipse cx="1497" cy="510" rx="34" ry="84" fill="#7a4cae"/><ellipse cx="1062" cy="347" rx="26" ry="14" fill="#4a3a9a"/><ellipse cx="1318" cy="392" rx="20" ry="14" fill="#4a3a9a"/><ellipse cx="1300" cy="520" rx="30" ry="14" fill="#4a3a9a"/><circle cx="1078" cy="165" r="17" fill="#5a9a32"/><circle cx="1170" cy="155" r="17" fill="#5a9a32"/><circle cx="1250" cy="185" r="17" fill="#5a9a32"/><circle cx="1325" cy="160" r="17" fill="#5a9a32"/><circle cx="1078" cy="232" r="17" fill="#5a9a32"/><circle cx="1325" cy="222" r="17" fill="#5a9a32"/><circle cx="1140" cy="665" r="17" fill="#5a9a32"/><circle cx="1138" cy="500" r="13" fill="#5a9a32"/><path d="M1000,255 C1010,290 950,310 965,350 C975,380 985,390 990,400 M1130,240 C1140,290 1200,270 1250,290 C1300,310 1260,350 1240,380 M935,560 C930,590 955,600 950,625" fill="none" stroke="#7ab648" stroke-width="7"/><path d="M915,285 L935,270 L950,290 L965,280 M1095,235 L1110,250 L1125,228 M1185,270 L1200,245 M1040,290 L1060,320 M1315,370 L1320,395 M1480,400 L1500,380 L1510,405" fill="none" stroke="#e6cf4a" stroke-width="6"/><path d="M1810,140 L2090,140 C2200,170 2280,260 2320,400 L2300,440 C2260,300 2190,215 2100,185 L1810,185 Z" fill="#555" stroke="#1e1e1e" stroke-width="5"/><path d="M2300,430 L2345,430 L2345,670 L2290,670 Z" fill="#b5b5b5"/><line x1="2296" y1="440" x2="2294" y2="668" stroke="#555" stroke-width="2.5"/><line x1="2303" y1="440" x2="2301" y2="668" stroke="#555" stroke-width="2.5"/><line x1="2310" y1="440" x2="2308" y2="668" stroke="#555" stroke-width="2.5"/><line x1="2317" y1="440" x2="2315" y2="668" stroke="#555" stroke-width="2.5"/><line x1="2324" y1="440" x2="2322" y2="668" stroke="#555" stroke-width="2.5"/><line x1="2331" y1="440" x2="2329" y2="668" stroke="#555" stroke-width="2.5"/><line x1="2338" y1="440" x2="2336" y2="668" stroke="#555" stroke-width="2.5"/><line x1="2345" y1="440" x2="2343" y2="668" stroke="#555" stroke-width="2.5"/><rect x="1810" y="140" width="290" height="22" fill="#1e1e1e"/><path d="M2260,439 Q2304,434 2319,378" fill="none" stroke="#1e1e1e" stroke-width="15"/><path d="M2247,486 Q2290,494 2320,444" fill="none" stroke="#1e1e1e" stroke-width="15"/><path d="M2220,527 Q2260,547 2303,508" fill="none" stroke="#1e1e1e" stroke-width="15"/><path d="M2183,559 Q2216,589 2268,564" fill="none" stroke="#1e1e1e" stroke-width="15"/><path d="M2139,580 Q2161,618 2219,608" fill="none" stroke="#1e1e1e" stroke-width="15"/><path d="M2091,587 Q2101,630 2159,636" fill="none" stroke="#1e1e1e" stroke-width="15"/><path d="M2042,580 Q2040,624 2094,647" fill="none" stroke="#1e1e1e" stroke-width="15"/><path d="M1997,560 Q1984,602 2029,639" fill="none" stroke="#1e1e1e" stroke-width="15"/><path d="M1960,528 Q1935,564 1968,612" fill="none" stroke="#1e1e1e" stroke-width="15"/><path d="M1934,487 Q1899,515 1917,570" fill="none" stroke="#1e1e1e" stroke-width="15"/><path d="M1920,440 Q1879,457 1881,515" fill="none" stroke="#1e1e1e" stroke-width="15"/><path d="M1920,391 Q1876,396 1861,452" fill="none" stroke="#1e1e1e" stroke-width="15"/><path d="M1933,344 Q1890,336 1860,386" fill="none" stroke="#1e1e1e" stroke-width="15"/><path d="M1960,303 Q1920,283 1877,322" fill="none" stroke="#1e1e1e" stroke-width="15"/><path d="M1997,271 Q1964,241 1912,266" fill="none" stroke="#1e1e1e" stroke-width="15"/><path d="M2041,250 Q2019,212 1961,222" fill="none" stroke="#1e1e1e" stroke-width="15"/><path d="M2089,243 Q2079,200 2021,194" fill="none" stroke="#1e1e1e" stroke-width="15"/><path d="M2138,250 Q2140,206 2086,183" fill="none" stroke="#1e1e1e" stroke-width="15"/><path d="M2183,270 Q2196,228 2151,191" fill="none" stroke="#1e1e1e" stroke-width="15"/><path d="M2220,302 Q2245,266 2212,218" fill="none" stroke="#1e1e1e" stroke-width="15"/><path d="M2246,343 Q2281,315 2263,260" fill="none" stroke="#1e1e1e" stroke-width="15"/><path d="M2260,390 Q2301,373 2299,315" fill="none" stroke="#1e1e1e" stroke-width="15"/><circle cx="2090" cy="415" r="170" fill="#fff" stroke="#1e1e1e" stroke-width="9"/><circle cx="2090" cy="415" r="150" fill="none" stroke="#1e1e1e" stroke-width="4"/><line x1="2112" y1="405" x2="2240" y2="405" stroke="#1e1e1e" stroke-width="3.5"/><line x1="2112" y1="425" x2="2240" y2="425" stroke="#1e1e1e" stroke-width="3.5"/><line x1="2110" y1="429" x2="2174" y2="540" stroke="#1e1e1e" stroke-width="3.5"/><line x1="2092" y1="439" x2="2156" y2="550" stroke="#1e1e1e" stroke-width="3.5"/><line x1="2088" y1="439" x2="2024" y2="550" stroke="#1e1e1e" stroke-width="3.5"/><line x1="2070" y1="429" x2="2006" y2="540" stroke="#1e1e1e" stroke-width="3.5"/><line x1="2068" y1="425" x2="1940" y2="425" stroke="#1e1e1e" stroke-width="3.5"/><line x1="2068" y1="405" x2="1940" y2="405" stroke="#1e1e1e" stroke-width="3.5"/><line x1="2070" y1="401" x2="2006" y2="290" stroke="#1e1e1e" stroke-width="3.5"/><line x1="2088" y1="391" x2="2024" y2="280" stroke="#1e1e1e" stroke-width="3.5"/><line x1="2092" y1="391" x2="2156" y2="280" stroke="#1e1e1e" stroke-width="3.5"/><line x1="2110" y1="401" x2="2174" y2="290" stroke="#1e1e1e" stroke-width="3.5"/><circle cx="2090" cy="415" r="24" fill="#ddd" stroke="#1e1e1e" stroke-width="4"/><circle cx="2090" cy="415" r="9" fill="none" stroke="#1e1e1e" stroke-width="3"/><path d="M1900,680 L2360,685 M1930,668 L2330,672 M1920,690 L2200,692" stroke="#1e1e1e" stroke-width="7" fill="none"/></g>
<!-- g2 -->
<rect x="2396.9" y="292.6" width="376.0" height="375.6" fill="#bbe74a" filter="url(#sh)"/><text x="2426.0" y="382.4" font-size="30.33" font-weight="bold" fill="#000" textLength="307.9" lengthAdjust="spacingAndGlyphs">Bacteria involved in</text>
<text x="2426.0" y="418.3" font-size="30.33" font-weight="bold" fill="#000" textLength="316.8" lengthAdjust="spacingAndGlyphs">bioremediation gain</text>
<text x="2426.0" y="454.2" font-size="30.33" font-weight="bold" fill="#000" textLength="253.6" lengthAdjust="spacingAndGlyphs">energy from the</text>
<text x="2426.0" y="490.0" font-size="30.33" font-weight="bold" fill="#000" textLength="307.4" lengthAdjust="spacingAndGlyphs">process of breaking</text>
<text x="2426.0" y="525.9" font-size="30.33" font-weight="bold" fill="#000" textLength="295.3" lengthAdjust="spacingAndGlyphs">down hydrocarbon</text>
<text x="2426.0" y="561.8" font-size="30.33" font-weight="bold" fill="#000" textLength="315.5" lengthAdjust="spacingAndGlyphs">contaminants in the</text>
<text x="2426.0" y="597.7" font-size="30.33" font-weight="bold" fill="#000" textLength="313.2" lengthAdjust="spacingAndGlyphs">presence of oxygen.</text>
<!-- arrow_s -->
<polygon points="2324.6,471.5 2374.3,509 2381.5,501.3 2404.7,568.6 2334,558.2 2340.6,548.8 2293.1,507.9" fill="#fff" stroke="#282828" stroke-width="9.4" stroke-linejoin="round"/>
<!-- gtext -->
<text x="2078.0" y="744.3" font-size="69" font-weight="normal" fill="#76a047" textLength="703.5" lengthAdjust="spacingAndGlyphs" stroke="#76a047" stroke-width="0.9">The above occurs in an</text>
<text x="2079.0" y="825.9" font-size="69" font-weight="normal" fill="#76a047" textLength="869.0" lengthAdjust="spacingAndGlyphs" stroke="#76a047" stroke-width="0.9">oxidation-reduction reaction.</text>
<text x="2078.0" y="907.5" font-size="69" font-weight="normal" fill="#76a047" textLength="801.0" lengthAdjust="spacingAndGlyphs" stroke="#76a047" stroke-width="0.9">This happens in two ways:</text>
<!-- box1 -->
<rect x="2091.2" y="947.3" width="826.3" height="91.6" rx="3" fill="#c9d9b6" stroke="#262626" stroke-width="9"/><text x="2125.4" y="1013.0" font-size="69" font-weight="normal" fill="#76a047" textLength="668.2" lengthAdjust="spacingAndGlyphs" stroke="#76a047" stroke-width="0.9">1.Aerobic degredation</text>
<!-- box2 -->
<rect x="2108.3" y="1076.4" width="811.0" height="113.6" rx="3" fill="#c9d9b6" stroke="#262626" stroke-width="9"/><text x="2108.3" y="1146.0" font-size="69" font-weight="normal" fill="#76a047" textLength="763.1" lengthAdjust="spacingAndGlyphs" stroke="#76a047" stroke-width="0.9">2. Anaerobic degredation</text>
<!-- g3 -->
<rect x="2472.9" y="1201.4" width="470.4" height="470.3" fill="#bbe74a" filter="url(#sh)"/><text x="2519.0" y="1283.0" font-size="34.71" font-weight="bold" fill="#000" textLength="277.0" lengthAdjust="spacingAndGlyphs">Bioremediation</text>
<text x="2519.0" y="1324.1" font-size="34.71" font-weight="bold" fill="#000" textLength="227.3" lengthAdjust="spacingAndGlyphs">occurs when</text>
<text x="2519.0" y="1365.2" font-size="34.71" font-weight="bold" fill="#000" textLength="378.2" lengthAdjust="spacingAndGlyphs">microorganisms gain</text>
<text x="2519.0" y="1406.3" font-size="34.71" font-weight="bold" fill="#000" textLength="371.0" lengthAdjust="spacingAndGlyphs">energy by catalyzing</text>
<text x="2519.0" y="1447.4" font-size="34.71" font-weight="bold" fill="#000" textLength="249.5" lengthAdjust="spacingAndGlyphs">reactions that</text>
<text x="2519.0" y="1488.5" font-size="34.71" font-weight="bold" fill="#000" textLength="370.0" lengthAdjust="spacingAndGlyphs">deteriorate chemical</text>
<text x="2519.0" y="1529.6" font-size="34.71" font-weight="bold" fill="#000" textLength="363.2" lengthAdjust="spacingAndGlyphs">bonds, then transfer</text>
<text x="2519.0" y="1570.7" font-size="34.71" font-weight="bold" fill="#000" textLength="364.6" lengthAdjust="spacingAndGlyphs">electrons away from</text>
<text x="2519.0" y="1611.8" font-size="34.71" font-weight="bold" fill="#000" textLength="309.6" lengthAdjust="spacingAndGlyphs">the contaminant.</text>
<!-- landscape -->
<g transform="translate(980,930) scale(0.43478)" filter="url(#lbl)"><g filter="url(#lsh)" opacity="0.30"><polygon points="20,570 260,740 520,960 840,1085 1300,985 1700,900 1900,800 2100,760 2400,740 2470,520 1800,560 600,560" fill="#555" /></g><path d="M52,329 C62,317 97,272 121,242 C145,211 200,140 221,117 C242,94 257,91 271,82 C285,73 307,56 321,54 C335,52 357,66 371,70 C385,74 400,82 421,82 C442,82 493,73 521,70 C549,66 597,53 615,57 C633,61 634,88 646,98 C658,108 687,120 702,126 C717,132 730,127 752,139 C775,151 825,191 858,210 C892,230 966,264 984,273 L984,335 L52,335 Z" fill="#e9ecea" opacity="1"/><path d="M671,186 C683,179 730,150 752,139 C775,127 808,115 827,107 C847,100 869,91 890,86 C910,80 950,73 971,67 C992,61 1019,44 1034,45 C1048,45 1058,62 1071,70 C1084,77 1107,90 1121,98 C1135,106 1155,118 1171,123 C1187,128 1217,130 1234,130 C1250,131 1274,134 1290,129 C1306,125 1332,106 1346,98 C1360,90 1376,73 1390,73 C1403,73 1426,89 1440,95 C1453,101 1470,106 1484,117 C1497,128 1518,156 1534,173 C1549,190 1574,219 1590,236 C1606,252 1638,278 1646,286 L1646,335 L671,335 Z" fill="#eceff6" opacity="1"/><path d="M1575,335 C1579,321 1591,264 1600,240 C1609,216 1626,186 1640,170 C1654,154 1683,134 1700,125 C1717,116 1734,107 1760,105 C1786,103 1846,111 1880,110 C1914,109 1977,94 2000,100 C2023,106 2023,136 2040,150 C2057,164 2096,186 2120,200 C2144,214 2184,241 2210,250 C2236,259 2283,250 2300,262 C2317,274 2326,325 2330,335 Z" fill="#e9ebea" /><path d="M52,329 C60,319 92,277 108,254 C125,232 153,186 171,173 C189,160 218,170 234,167 C249,163 264,150 277,148 C291,146 312,150 327,154 C342,158 368,170 384,176 C399,182 414,187 434,195 C453,202 496,216 521,229 C546,242 596,277 608,286 L608,335 L52,335 Z" fill="#d2d9d5" opacity="1"/><path d="M396,229 C401,224 421,205 434,195 C446,185 469,168 484,160 C498,153 519,148 534,145 C548,141 570,136 584,136 C597,136 615,142 627,145 C640,148 659,154 671,154 C683,154 697,147 708,145 C720,143 738,139 752,139 C767,138 793,140 808,142 C824,143 846,144 858,148 C871,152 885,164 896,170 C907,176 918,183 934,192 C949,200 986,216 1002,229 C1018,243 1040,277 1046,286 L1046,335 L396,335 Z" fill="#d6dce2" opacity="1"/><path d="M296,310 C300,307 309,295 321,286 C333,276 361,254 377,242 C393,229 419,206 434,198 C448,190 465,188 477,186 C490,183 508,178 521,179 C534,181 554,190 565,195 C575,199 591,204 596,210 C601,217 597,234 602,242 C608,250 625,260 634,267 C642,273 652,280 658,286 C665,291 675,302 677,304 L677,335 L296,335 Z" fill="#c2ccc7" opacity="1"/><path d="M646,304 C650,303 658,302 671,298 C684,294 713,283 734,279 C754,276 792,275 815,274 C837,273 876,270 890,273 C903,276 902,285 908,292 C915,299 930,319 934,323 L934,335 L646,335 Z" fill="#ccd4d8" opacity="1"/><polygon points="52,328 300,303 700,298 880,296 1100,300 1250,300 1400,310 1600,288 1720,286 1850,290 1970,232 2100,268 2190,290 2250,240 2350,275 2450,268 2530,320 2429,407 2120,462 2075,468 2030,478 1990,452 1700,470 1544,489 1300,507 1138,512 690,592 668,593 231,485" fill="url(#lgGrass)" /><path d="M434,301 C441,298 469,288 484,282 C498,277 519,267 534,264 C548,260 570,256 584,256 C597,256 616,258 627,264 C639,269 651,286 665,292 C678,298 720,304 721,307 C722,311 705,314 671,316 C637,317 510,318 484,318 Z" fill="#456b26" /><path d="M858,302 L934,273 L1040,195 L1071,204 L1108,198 L1196,193 L1208,204 L1271,223 L1308,206 L1346,217 L1440,260 L1546,243 L1646,239 L1650,245 L1720,290 L1600,305 L1400,335 L1250,322 L1100,318 Z" fill="url(#lgHill)" /><polygon points="1840,301 1964,297 2088,297 2203,281 2253,237 2364,279 2418,293 2451,268 2527,320 2426,376 2115,464 2071,450 2026,425 1972,390 1939,384 1894,359 1865,326 1840,316" fill="url(#lgGrass2)" /><path d="M1823,297 C1829,295 1854,286 1865,281 C1876,275 1888,267 1902,260 C1916,253 1949,237 1964,234 C1979,232 1993,238 2005,239 C2017,241 2029,243 2046,248 C2064,252 2107,264 2129,269 C2151,274 2190,280 2199,285 C2208,290 2207,300 2191,303 C2175,307 2120,311 2088,310 C2055,310 1993,299 1964,298 C1934,297 1893,303 1881,304 Z" fill="#255a22" /><polygon points="2199,285 2253,237 2306,257 2364,279 2418,293 2451,268 2527,320 2426,376 2319,413 2273,402 2183,396 2154,409 2125,392 2063,378 2104,355 2088,347 2129,326 2195,301" fill="#4a6b2a" /><polygon points="2284,405 2377,367 2426,343 2484,326 2509,330 2426,376 2319,413" fill="#8ab858" /><polygon points="2115,463 2129,446 2154,409 2183,396 2273,402 2319,413 2212,443" fill="#2c5c24" /><path d="M1704,475 C1711,468 1744,435 1757,425 C1771,416 1787,413 1799,409 C1811,405 1828,399 1840,396 C1852,394 1869,394 1881,392 C1893,391 1911,384 1923,386 C1934,388 1953,401 1964,409 C1974,416 1989,430 1997,438 C2005,445 2024,457 2022,458 C2019,460 2006,448 1980,448 C1954,448 1872,456 1840,458 C1808,461 1769,464 1757,464 Z" fill="#446e2a" /><polygon points="1716,285 1778,295 1840,316 1865,326 1894,359 1939,384 1972,390 2026,425 2071,450 2115,464 2022,458 1997,429 1964,400 1931,392 1881,376 1840,343 1790,318 1716,293" fill="url(#lgRiver)" /><polygon points="1964,386 1976,387 2117,462 2112,467" fill="#3a2415" /><polygon points="368,512 627,437 884,437 1144,512 690,592" fill="#8fbf4a" /><polygon points="378,511 629,441 880,441 1134,511 690,587" fill="url(#lgAsph)" /><polygon points="231,485 668,593 692,656 261,537" fill="#38200f" /><polygon points="261,537 692,656 739,783 320,642" fill="#2d4f68" /><polygon points="320,642 739,783 794,933 393,772" fill="#2e3d44" /><polygon points="393,772 794,933 819,1000 433,843" fill="#2b1a10" /><polygon points="433,843 819,1000 840,1056 448,869" fill="#5d4030" /><polygon points="272,558 701,681 711,709 285,581" fill="#3a6585" opacity="0.6"/><polygon points="668,593 690,592 1138,512 1300,507 1544,489 1700,470 1840,458 1980,448 2022,458 2114,464 2426,376 2306,648 2298,667 2129,663 2005,663 1923,677 1877,693 1855,720 1840,760 1764,806 1615,873 1466,910 1242,936 1045,993 840,1056" fill="#6e4e3e" /><polygon points="668,593 690,592 1138,512 1300,507 1544,489 1700,470 1840,458 1980,448 2022,458 2114,464 2426,376 2308,643 2294,644 2088,642 1964,648 1881,673 1840,710 1802,746 1690,821 1540,880 1242,910 1045,950 817,1000" fill="#47413d" /><polygon points="668,593 690,592 1138,512 1300,507 1544,489 1700,470 1840,458 1980,448 2022,458 2114,464 2426,376 2326,603 2088,601 1964,611 1881,636 1840,656 1764,728 1615,806 1540,851 1242,880 993,918 791,933" fill="url(#lgWater)" /><polygon points="668,593 690,592 1138,512 1300,507 1544,489 1700,470 1840,458 1980,448 2022,458 2114,464 2426,376 2374,493 2377,493 2253,495 2129,497 2005,504 1922,532 1840,578 1690,590 1540,592 1269,605 900,640 694,672" fill="#3a5c7a" /><polygon points="668,593 690,592 1138,512 1300,507 1544,489 1700,470 1840,458 1980,448 2022,458 2114,464 2426,376 2382,475 2377,475 2253,479 2129,485 2026,479 2005,491 1922,516 1840,557 1690,567 1540,575 1269,590 900,625 694,657" fill="#44301f" /><polygon points="668,593 690,592 1138,512 1300,507 1544,489 1700,470 1840,458 1980,448 2022,458 2114,464 2426,376 2418,392 2211,446 2114,470 2018,466 1964,479 1840,512 1690,545 1540,556 1269,572 900,608 694,640" fill="#38200f" /><polygon points="2022,457 2115,464 2113,491 2088,504 2046,502 2028,480" fill="#3d7fa6" opacity="0.92"/><polygon points="2426,376 2527,320 2389,603 2298,667" fill="#6e4e3e" /><polygon points="2426,376 2527,320 2486,405 2388,463" fill="#2f1d13" /><polygon points="2388,463 2486,405 2466,445 2370,504" fill="#2b171a" /><polygon points="2370,504 2466,445 2444,490 2349,551" fill="#2b3a46" /><polygon points="2349,551 2444,490 2422,535 2329,597" fill="#1f3a5b" /><polygon points="2329,597 2422,535 2403,575 2311,638" fill="#463024" /><path d="M745,640 L790,645 C820,700 830,730 880,730 C950,725 1000,690 1100,690 C1200,690 1250,640 1330,610 C1400,585 1500,590 1580,610 L1640,700 L1600,860 C1500,885 1400,900 1300,905 C1200,915 1080,915 1000,910 C920,900 880,870 850,820 C830,780 830,730 790,690 Z" fill="url(#lgPlume)" /><path d="M1000,905 C1080,880 1200,870 1300,880 L1420,890 L1300,905 C1200,915 1080,915 1000,905Z" fill="#a08f3a" opacity="0.45"/><line x1="757" y1="575" x2="757" y2="615" stroke="#ccc" stroke-width="4"/><g transform="rotate(-10 808 620)"><rect x="738" y="592" width="142" height="56" rx="14" fill="#8f8a80"/><rect x="738" y="592" width="142" height="22" rx="11" fill="#a8a39a"/><ellipse cx="752" cy="620" rx="13" ry="28" fill="#7a756c"/></g><line x1="1275" y1="457" x2="1275" y2="760" stroke="#9a9a9a" stroke-width="11"/><line x1="1275" y1="457" x2="1275" y2="760" stroke="#ececec" stroke-width="7"/><line x1="1365" y1="457" x2="1365" y2="842" stroke="#9a9a9a" stroke-width="11"/><line x1="1365" y1="457" x2="1365" y2="842" stroke="#ececec" stroke-width="7"/><line x1="1457" y1="457" x2="1457" y2="838" stroke="#9a9a9a" stroke-width="11"/><line x1="1457" y1="457" x2="1457" y2="838" stroke="#ececec" stroke-width="7"/><line x1="1550" y1="457" x2="1550" y2="875" stroke="#9a9a9a" stroke-width="11"/><line x1="1550" y1="457" x2="1550" y2="875" stroke="#ececec" stroke-width="7"/><path d="M1272,457 L1550,457 M1275,457 L1335,428" stroke="#9a9a9a" stroke-width="12" fill="none"/><path d="M1272,457 L1550,457 M1275,457 L1335,428" stroke="#ececec" stroke-width="8" fill="none"/><rect x="1330" y="408" width="66" height="44" rx="3" fill="#363d42"/><rect x="1335" y="420" width="56" height="26" fill="#2c6a92"/><rect x="1328" y="406" width="70" height="8" fill="#4a5257"/><rect x="1412" y="408" width="66" height="44" rx="3" fill="#363d42"/><rect x="1417" y="420" width="56" height="26" fill="#2c6a92"/><rect x="1410" y="406" width="70" height="8" fill="#4a5257"/><path d="M1261,600 L1235,600 M1244,595 L1235,600 L1244,605" stroke="#4ea6e6" stroke-width="4" fill="none"/><path d="M1289,600 L1315,600 M1306,595 L1315,600 L1306,605" stroke="#4ea6e6" stroke-width="4" fill="none"/><path d="M1261,620 L1235,620 M1244,615 L1235,620 L1244,625" stroke="#4ea6e6" stroke-width="4" fill="none"/><path d="M1289,620 L1315,620 M1306,615 L1315,620 L1306,625" stroke="#4ea6e6" stroke-width="4" fill="none"/><path d="M1261,640 L1235,640 M1244,635 L1235,640 L1244,645" stroke="#4ea6e6" stroke-width="4" fill="none"/><path d="M1289,640 L1315,640 M1306,635 L1315,640 L1306,645" stroke="#4ea6e6" stroke-width="4" fill="none"/><path d="M1261,700 L1235,700 M1244,695 L1235,700 L1244,705" stroke="#4ea6e6" stroke-width="4" fill="none"/><path d="M1289,700 L1315,700 M1306,695 L1315,700 L1306,705" stroke="#4ea6e6" stroke-width="4" fill="none"/><path d="M1261,720 L1235,720 M1244,715 L1235,720 L1244,725" stroke="#4ea6e6" stroke-width="4" fill="none"/><path d="M1289,720 L1315,720 M1306,715 L1315,720 L1306,725" stroke="#4ea6e6" stroke-width="4" fill="none"/><path d="M1261,740 L1235,740 M1244,735 L1235,740 L1244,745" stroke="#4ea6e6" stroke-width="4" fill="none"/><path d="M1289,740 L1315,740 M1306,735 L1315,740 L1306,745" stroke="#4ea6e6" stroke-width="4" fill="none"/><path d="M1351,535 L1325,535 M1334,530 L1325,535 L1334,540" stroke="#4ea6e6" stroke-width="4" fill="none"/><path d="M1379,535 L1405,535 M1396,530 L1405,535 L1396,540" stroke="#4ea6e6" stroke-width="4" fill="none"/><path d="M1351,555 L1325,555 M1334,550 L1325,555 L1334,560" stroke="#4ea6e6" stroke-width="4" fill="none"/><path d="M1379,555 L1405,555 M1396,550 L1405,555 L1396,560" stroke="#4ea6e6" stroke-width="4" fill="none"/><path d="M1351,575 L1325,575 M1334,570 L1325,575 L1334,580" stroke="#4ea6e6" stroke-width="4" fill="none"/><path d="M1379,575 L1405,575 M1396,570 L1405,575 L1396,580" stroke="#4ea6e6" stroke-width="4" fill="none"/><path d="M1351,600 L1325,600 M1334,595 L1325,600 L1334,605" stroke="#4ea6e6" stroke-width="4" fill="none"/><path d="M1379,600 L1405,600 M1396,595 L1405,600 L1396,605" stroke="#4ea6e6" stroke-width="4" fill="none"/><path d="M1351,620 L1325,620 M1334,615 L1325,620 L1334,625" stroke="#4ea6e6" stroke-width="4" fill="none"/><path d="M1379,620 L1405,620 M1396,615 L1405,620 L1396,625" stroke="#4ea6e6" stroke-width="4" fill="none"/><path d="M1351,720 L1325,720 M1334,715 L1325,720 L1334,725" stroke="#4ea6e6" stroke-width="4" fill="none"/><path d="M1379,720 L1405,720 M1396,715 L1405,720 L1396,725" stroke="#4ea6e6" stroke-width="4" fill="none"/><path d="M1351,740 L1325,740 M1334,735 L1325,740 L1334,745" stroke="#4ea6e6" stroke-width="4" fill="none"/><path d="M1379,740 L1405,740 M1396,735 L1405,740 L1396,745" stroke="#4ea6e6" stroke-width="4" fill="none"/><path d="M1351,775 L1325,775 M1334,770 L1325,775 L1334,780" stroke="#4ea6e6" stroke-width="4" fill="none"/><path d="M1379,775 L1405,775 M1396,770 L1405,775 L1396,780" stroke="#4ea6e6" stroke-width="4" fill="none"/><path d="M1351,795 L1325,795 M1334,790 L1325,795 L1334,800" stroke="#4ea6e6" stroke-width="4" fill="none"/><path d="M1379,795 L1405,795 M1396,790 L1405,795 L1396,800" stroke="#4ea6e6" stroke-width="4" fill="none"/><path d="M1443,590 L1417,590 M1426,585 L1417,590 L1426,595" stroke="#4ea6e6" stroke-width="4" fill="none"/><path d="M1471,590 L1497,590 M1488,585 L1497,590 L1488,595" stroke="#4ea6e6" stroke-width="4" fill="none"/><path d="M1443,610 L1417,610 M1426,605 L1417,610 L1426,615" stroke="#4ea6e6" stroke-width="4" fill="none"/><path d="M1471,610 L1497,610 M1488,605 L1497,610 L1488,615" stroke="#4ea6e6" stroke-width="4" fill="none"/><path d="M1443,630 L1417,630 M1426,625 L1417,630 L1426,635" stroke="#4ea6e6" stroke-width="4" fill="none"/><path d="M1471,630 L1497,630 M1488,625 L1497,630 L1488,635" stroke="#4ea6e6" stroke-width="4" fill="none"/><path d="M1443,710 L1417,710 M1426,705 L1417,710 L1426,715" stroke="#4ea6e6" stroke-width="4" fill="none"/><path d="M1471,710 L1497,710 M1488,705 L1497,710 L1488,715" stroke="#4ea6e6" stroke-width="4" fill="none"/><path d="M1443,730 L1417,730 M1426,725 L1417,730 L1426,735" stroke="#4ea6e6" stroke-width="4" fill="none"/><path d="M1471,730 L1497,730 M1488,725 L1497,730 L1488,735" stroke="#4ea6e6" stroke-width="4" fill="none"/><path d="M1443,750 L1417,750 M1426,745 L1417,750 L1426,755" stroke="#4ea6e6" stroke-width="4" fill="none"/><path d="M1471,750 L1497,750 M1488,745 L1497,750 L1488,755" stroke="#4ea6e6" stroke-width="4" fill="none"/><path d="M1536,565 L1510,565 M1519,560 L1510,565 L1519,570" stroke="#4ea6e6" stroke-width="4" fill="none"/><path d="M1564,565 L1590,565 M1581,560 L1590,565 L1581,570" stroke="#4ea6e6" stroke-width="4" fill="none"/><path d="M1536,585 L1510,585 M1519,580 L1510,585 L1519,590" stroke="#4ea6e6" stroke-width="4" fill="none"/><path d="M1564,585 L1590,585 M1581,580 L1590,585 L1581,590" stroke="#4ea6e6" stroke-width="4" fill="none"/><path d="M1536,605 L1510,605 M1519,600 L1510,605 L1519,610" stroke="#4ea6e6" stroke-width="4" fill="none"/><path d="M1564,605 L1590,605 M1581,600 L1590,605 L1581,610" stroke="#4ea6e6" stroke-width="4" fill="none"/><path d="M1536,660 L1510,660 M1519,655 L1510,660 L1519,665" stroke="#4ea6e6" stroke-width="4" fill="none"/><path d="M1564,660 L1590,660 M1581,655 L1590,660 L1581,665" stroke="#4ea6e6" stroke-width="4" fill="none"/><path d="M1536,680 L1510,680 M1519,675 L1510,680 L1519,685" stroke="#4ea6e6" stroke-width="4" fill="none"/><path d="M1564,680 L1590,680 M1581,675 L1590,680 L1581,685" stroke="#4ea6e6" stroke-width="4" fill="none"/><path d="M1536,700 L1510,700 M1519,695 L1510,700 L1519,705" stroke="#4ea6e6" stroke-width="4" fill="none"/><path d="M1564,700 L1590,700 M1581,695 L1590,700 L1581,705" stroke="#4ea6e6" stroke-width="4" fill="none"/><path d="M1536,790 L1510,790 M1519,785 L1510,790 L1519,795" stroke="#4ea6e6" stroke-width="4" fill="none"/><path d="M1564,790 L1590,790 M1581,785 L1590,790 L1581,795" stroke="#4ea6e6" stroke-width="4" fill="none"/><path d="M1536,810 L1510,810 M1519,805 L1510,810 L1519,815" stroke="#4ea6e6" stroke-width="4" fill="none"/><path d="M1564,810 L1590,810 M1581,805 L1590,810 L1581,815" stroke="#4ea6e6" stroke-width="4" fill="none"/><path d="M1536,830 L1510,830 M1519,825 L1510,830 L1519,835" stroke="#4ea6e6" stroke-width="4" fill="none"/><path d="M1564,830 L1590,830 M1581,825 L1590,830 L1581,835" stroke="#4ea6e6" stroke-width="4" fill="none"/><path transform="translate(1585,655) rotate(8) scale(0.95)" d="M0,8 C25,-8 55,-8 75,2 L78,-14 L112,14 L72,34 L74,18 C55,10 28,12 6,26 Z" fill="#4a94cc" opacity="0.8"/><path transform="translate(1655,725) rotate(-12) scale(0.95)" d="M0,8 C25,-8 55,-8 75,2 L78,-14 L112,14 L72,34 L74,18 C55,10 28,12 6,26 Z" fill="#4a94cc" opacity="0.8"/><path transform="translate(1495,745) rotate(-5) scale(1.0)" d="M0,8 C25,-8 55,-8 75,2 L78,-14 L112,14 L72,34 L74,18 C55,10 28,12 6,26 Z" fill="#4a94cc" opacity="0.8"/><path transform="translate(838,750) rotate(8) scale(0.95)" d="M0,0 C30,14 60,14 82,4 L78,-12 L118,12 L84,40 L84,24 C55,36 22,28 0,0 Z" fill="#e23d28"/><path transform="translate(838,750) rotate(8) scale(0.95)" d="M0,0 C30,14 60,14 82,4 L78,-12 L118,12 Z" fill="#f0624a"/><path transform="translate(995,748) rotate(-22) scale(0.95)" d="M0,0 C30,14 60,14 82,4 L78,-12 L118,12 L84,40 L84,24 C55,36 22,28 0,0 Z" fill="#e23d28"/><path transform="translate(995,748) rotate(-22) scale(0.95)" d="M0,0 C30,14 60,14 82,4 L78,-12 L118,12 Z" fill="#f0624a"/><path transform="translate(1135,770) rotate(-38) scale(1.0)" d="M0,0 C30,14 60,14 82,4 L78,-12 L118,12 L84,40 L84,24 C55,36 22,28 0,0 Z" fill="#e23d28"/><path transform="translate(1135,770) rotate(-38) scale(1.0)" d="M0,0 C30,14 60,14 82,4 L78,-12 L118,12 Z" fill="#f0624a"/><path transform="translate(978,842) rotate(18) scale(0.95)" d="M0,0 C30,14 60,14 82,4 L78,-12 L118,12 L84,40 L84,24 C55,36 22,28 0,0 Z" fill="#e23d28"/><path transform="translate(978,842) rotate(18) scale(0.95)" d="M0,0 C30,14 60,14 82,4 L78,-12 L118,12 Z" fill="#f0624a"/><path transform="translate(1150,832) rotate(18) scale(0.95)" d="M0,0 C30,14 60,14 82,4 L78,-12 L118,12 L84,40 L84,24 C55,36 22,28 0,0 Z" fill="#e23d28"/><path transform="translate(1150,832) rotate(18) scale(0.95)" d="M0,0 C30,14 60,14 82,4 L78,-12 L118,12 Z" fill="#f0624a"/><path transform="translate(1278,812) rotate(-28) scale(0.95)" d="M0,0 C30,14 60,14 82,4 L78,-12 L118,12 L84,40 L84,24 C55,36 22,28 0,0 Z" fill="#e23d28"/><path transform="translate(1278,812) rotate(-28) scale(0.95)" d="M0,0 C30,14 60,14 82,4 L78,-12 L118,12 Z" fill="#f0624a"/><polygon points="634,388 672,357 817,357 855,388" fill="#9a968f" /><polygon points="640,388 675,361 814,361 849,388" fill="#6e6c6a" /><rect x="634" y="388" width="221" height="9" fill="#cfc9bd"/><rect x="642" y="397" width="205" height="22" fill="#5a3a3a"/><text x="745" y="415" font-size="18" font-weight="bold" fill="#f04a3a" text-anchor="middle" textLength="150" lengthAdjust="spacingAndGlyphs" stroke="#fff" stroke-width="0.6">GAS STATION</text><rect x="649" y="419" width="194" height="72" fill="#8d9499"/><rect x="655" y="430" width="52" height="46" fill="#2b5f9a"/><rect x="790" y="432" width="46" height="42" fill="#2b5f9a"/><rect x="796" y="448" width="34" height="20" fill="#9ac83a"/><rect x="722" y="445" width="52" height="46" fill="#2a4f8a"/><path d="M716,430 L780,430 L786,446 L710,446 Z" fill="#e0523a"/><rect x="640" y="488" width="212" height="8" fill="#b8b4aa"/><ellipse cx="595" cy="556" rx="20" ry="7" fill="#9a9a9a" opacity="0.7"/><rect x="586" y="524" width="18" height="32" rx="3" fill="#d8dadc"/><path d="M585,524 L605,524 L601,514 L589,514Z" fill="#d8432f"/><ellipse cx="625" cy="564" rx="20" ry="7" fill="#9a9a9a" opacity="0.7"/><rect x="616" y="532" width="18" height="32" rx="3" fill="#d8dadc"/><path d="M615,532 L635,532 L631,522 L619,522Z" fill="#d8432f"/><ellipse cx="750" cy="561" rx="20" ry="7" fill="#9a9a9a" opacity="0.7"/><rect x="741" y="529" width="18" height="32" rx="3" fill="#d8dadc"/><path d="M740,529 L760,529 L756,519 L744,519Z" fill="#d8432f"/><ellipse cx="780" cy="551" rx="20" ry="7" fill="#9a9a9a" opacity="0.7"/><rect x="771" y="519" width="18" height="32" rx="3" fill="#d8dadc"/><path d="M770,519 L790,519 L786,509 L774,509Z" fill="#d8432f"/><ellipse cx="915" cy="531" rx="20" ry="7" fill="#9a9a9a" opacity="0.7"/><rect x="906" y="499" width="18" height="32" rx="3" fill="#d8dadc"/><path d="M905,499 L925,499 L921,489 L909,489Z" fill="#d8432f"/><ellipse cx="945" cy="521" rx="20" ry="7" fill="#9a9a9a" opacity="0.7"/><rect x="936" y="489" width="18" height="32" rx="3" fill="#d8dadc"/><path d="M935,489 L955,489 L951,479 L939,479Z" fill="#d8432f"/><ellipse cx="488" cy="468.0" rx="36.0" ry="7.199999999999999" fill="#3b5f1f" opacity="0.35"/><rect x="484.4" y="422.0" width="7.199999999999999" height="46.0" fill="#7a5530"/><path d="M488,364.0 C502.0,374.0 530.0,424.0 524.0,442.0 C504.0,450.0 472.0,450.0 452.0,442.0 C446.0,424.0 474.0,374.0 488,364.0Z" fill="#6fb52c"/><ellipse cx="484.0" cy="404.0" rx="20.0" ry="22.0" fill="#9bd455" opacity="0.8"/><ellipse cx="578" cy="445.9" rx="37.800000000000004" ry="7.56" fill="#3b5f1f" opacity="0.35"/><rect x="574.22" y="397.6" width="7.56" height="48.3" fill="#7a5530"/><path d="M578,336.7 C592.7,347.2 622.1,399.7 615.8,418.6 C594.8,427.0 561.2,427.0 540.2,418.6 C533.9,399.7 563.3,347.2 578,336.7Z" fill="#6fb52c"/><ellipse cx="573.8" cy="378.7" rx="21.0" ry="23.1" fill="#9bd455" opacity="0.8"/><ellipse cx="1005" cy="444.7" rx="41.4" ry="8.28" fill="#3b5f1f" opacity="0.35"/><rect x="1000.86" y="391.8" width="8.28" height="52.9" fill="#7a5530"/><path d="M1005,325.1 C1021.1,336.6 1053.3,394.1 1046.4,414.8 C1023.4,424.0 986.6,424.0 963.6,414.8 C956.7,394.1 988.9,336.6 1005,325.1Z" fill="#6fb52c"/><ellipse cx="1000.4" cy="371.1" rx="23.0" ry="25.3" fill="#9bd455" opacity="0.8"/><ellipse cx="1083" cy="481.3" rx="30.6" ry="6.12" fill="#3b5f1f" opacity="0.35"/><rect x="1079.94" y="442.2" width="6.12" height="39.099999999999994" fill="#7a5530"/><path d="M1083,392.9 C1094.9,401.4 1118.7,443.9 1113.6,459.2 C1096.6,466.0 1069.4,466.0 1052.4,459.2 C1047.3,443.9 1071.1,401.4 1083,392.9Z" fill="#6fb52c"/><ellipse cx="1079.6" cy="426.9" rx="17.0" ry="18.700000000000003" fill="#9bd455" opacity="0.8"/><ellipse cx="320" cy="313.2" rx="14.4" ry="2.88" fill="#3b5f1f" opacity="0.35"/><rect x="318.56" y="294.8" width="2.88" height="18.4" fill="#7a5530"/><path d="M320,271.6 C325.6,275.6 336.8,295.6 334.4,302.8 C326.4,306.0 313.6,306.0 305.6,302.8 C303.2,295.6 314.4,275.6 320,271.6Z" fill="#6fb52c"/><ellipse cx="318.4" cy="287.6" rx="8.0" ry="8.8" fill="#9bd455" opacity="0.8"/><ellipse cx="352" cy="313.95" rx="9.9" ry="1.98" fill="#3b5f1f" opacity="0.35"/><rect x="351.01" y="301.3" width="1.98" height="12.649999999999999" fill="#7a5530"/><path d="M352,285.35 C355.85,288.1 363.55,301.85 361.9,306.8 C356.4,309.0 347.6,309.0 342.1,306.8 C340.45,301.85 348.15,288.1 352,285.35Z" fill="#6fb52c"/><ellipse cx="350.9" cy="296.35" rx="5.5" ry="6.050000000000001" fill="#9bd455" opacity="0.8"/><ellipse cx="905" cy="316.2" rx="14.4" ry="2.88" fill="#3b5f1f" opacity="0.35"/><rect x="903.56" y="297.8" width="2.88" height="18.4" fill="#7a5530"/><path d="M905,274.6 C910.6,278.6 921.8,298.6 919.4,305.8 C911.4,309.0 898.6,309.0 890.6,305.8 C888.2,298.6 899.4,278.6 905,274.6Z" fill="#6fb52c"/><ellipse cx="903.4" cy="290.6" rx="8.0" ry="8.8" fill="#9bd455" opacity="0.8"/><ellipse cx="938" cy="315.95" rx="9.9" ry="1.98" fill="#3b5f1f" opacity="0.35"/><rect x="937.01" y="303.3" width="1.98" height="12.649999999999999" fill="#7a5530"/><path d="M938,287.35 C941.85,290.1 949.55,303.85 947.9,308.8 C942.4,311.0 933.6,311.0 928.1,308.8 C926.45,303.85 934.15,290.1 938,287.35Z" fill="#6fb52c"/><ellipse cx="936.9" cy="298.35" rx="5.5" ry="6.050000000000001" fill="#9bd455" opacity="0.8"/><ellipse cx="1165" cy="314.75" rx="13.5" ry="2.6999999999999997" fill="#3b5f1f" opacity="0.35"/><rect x="1163.65" y="297.5" width="2.6999999999999997" height="17.25" fill="#7a5530"/><path d="M1165,275.75 C1170.25,279.5 1180.75,298.25 1178.5,305.0 C1171.0,308.0 1159.0,308.0 1151.5,305.0 C1149.25,298.25 1159.75,279.5 1165,275.75Z" fill="#6fb52c"/><ellipse cx="1163.5" cy="290.75" rx="7.5" ry="8.25" fill="#9bd455" opacity="0.8"/><ellipse cx="1255" cy="332.8" rx="21.6" ry="4.32" fill="#3b5f1f" opacity="0.35"/><rect x="1252.84" y="305.2" width="4.32" height="27.599999999999998" fill="#7a5530"/><path d="M1255,270.4 C1263.4,276.4 1280.2,306.4 1276.6,317.2 C1264.6,322.0 1245.4,322.0 1233.4,317.2 C1229.8,306.4 1246.6,276.4 1255,270.4Z" fill="#6fb52c"/><ellipse cx="1252.6" cy="294.4" rx="12.0" ry="13.200000000000001" fill="#9bd455" opacity="0.8"/><ellipse cx="1580" cy="298.3" rx="12.6" ry="2.52" fill="#3b5f1f" opacity="0.35"/><rect x="1578.74" y="282.2" width="2.52" height="16.099999999999998" fill="#7a5530"/><path d="M1580,261.9 C1584.9,265.4 1594.7,282.9 1592.6,289.2 C1585.6,292.0 1574.4,292.0 1567.4,289.2 C1565.3,282.9 1575.1,265.4 1580,261.9Z" fill="#6fb52c"/><ellipse cx="1578.6" cy="275.9" rx="7.0" ry="7.700000000000001" fill="#9bd455" opacity="0.8"/><ellipse cx="2003" cy="316.75" rx="13.5" ry="2.6999999999999997" fill="#3b5f1f" opacity="0.35"/><rect x="2001.65" y="299.5" width="2.6999999999999997" height="17.25" fill="#7a5530"/><path d="M2003,277.75 C2008.25,281.5 2018.75,300.25 2016.5,307.0 C2009.0,310.0 1997.0,310.0 1989.5,307.0 C1987.25,300.25 1997.75,281.5 2003,277.75Z" fill="#6fb52c"/><ellipse cx="2001.5" cy="292.75" rx="7.5" ry="8.25" fill="#9bd455" opacity="0.8"/><ellipse cx="2275" cy="409.0" rx="18.0" ry="3.5999999999999996" fill="#3b5f1f" opacity="0.35"/><rect x="2273.2" y="386.0" width="3.5999999999999996" height="23.0" fill="#7a5530"/><path d="M2275,357.0 C2282.0,362.0 2296.0,387.0 2293.0,396.0 C2283.0,400.0 2267.0,400.0 2257.0,396.0 C2254.0,387.0 2268.0,362.0 2275,357.0Z" fill="#6fb52c"/><ellipse cx="2273.0" cy="377.0" rx="10.0" ry="11.0" fill="#9bd455" opacity="0.8"/><ellipse cx="2420" cy="358.2" rx="14.4" ry="2.88" fill="#3b5f1f" opacity="0.35"/><rect x="2418.56" y="339.8" width="2.88" height="18.4" fill="#7a5530"/><path d="M2420,316.6 C2425.6,320.6 2436.8,340.6 2434.4,347.8 C2426.4,351.0 2413.6,351.0 2405.6,347.8 C2403.2,340.6 2414.4,320.6 2420,316.6Z" fill="#6fb52c"/><ellipse cx="2418.4" cy="332.6" rx="8.0" ry="8.8" fill="#9bd455" opacity="0.8"/><path d="M378,262 L389.4,300 L366.6,300 Z" fill="#2c5a27"/><rect x="376" y="300" width="4" height="4.56" fill="#4a3520"/><path d="M420,254 L433.8,300 L406.2,300 Z" fill="#2c5a27"/><rect x="418" y="300" width="4" height="5.52" fill="#4a3520"/><path d="M1110,252 L1127.4,310 L1092.6,310 Z" fill="#2c5a27"/><rect x="1108" y="310" width="4" height="6.96" fill="#4a3520"/><path d="M1375,262 L1383.4,290 L1366.6,290 Z" fill="#2c5a27"/><rect x="1373" y="290" width="4" height="3.36" fill="#4a3520"/><path d="M1475,250 L1488.5,295 L1461.5,295 Z" fill="#2c5a27"/><rect x="1473" y="295" width="4" height="5.3999999999999995" fill="#4a3520"/><path d="M1598,234 L1606.4,262 L1589.6,262 Z" fill="#2c5a27"/><rect x="1596" y="262" width="4" height="3.36" fill="#4a3520"/><path d="M2160,348 L2175.6,400 L2144.4,400 Z" fill="#2c5a27"/><rect x="2158" y="400" width="4" height="6.24" fill="#4a3520"/><path d="M2405,292 L2413.4,320 L2396.6,320 Z" fill="#2c5a27"/><rect x="2403" y="320" width="4" height="3.36" fill="#4a3520"/><ellipse cx="1330" cy="301.2" rx="14.4" ry="2.88" fill="#3b5f1f" opacity="0.35"/><rect x="1328.56" y="282.8" width="2.88" height="18.4" fill="#7a5530"/><path d="M1330,259.6 C1335.6,263.6 1346.8,283.6 1344.4,290.8 C1336.4,294.0 1323.6,294.0 1315.6,290.8 C1313.2,283.6 1324.4,263.6 1330,259.6Z" fill="#2f5f22"/><ellipse cx="1328.4" cy="275.6" rx="8.0" ry="8.8" fill="#3f7a2d" opacity="0.8"/><ellipse cx="1530" cy="308.2" rx="14.4" ry="2.88" fill="#3b5f1f" opacity="0.35"/><rect x="1528.56" y="289.8" width="2.88" height="18.4" fill="#7a5530"/><path d="M1530,266.6 C1535.6,270.6 1546.8,290.6 1544.4,297.8 C1536.4,301.0 1523.6,301.0 1515.6,297.8 C1513.2,290.6 1524.4,270.6 1530,266.6Z" fill="#2f5f22"/><ellipse cx="1528.4" cy="282.6" rx="8.0" ry="8.8" fill="#3f7a2d" opacity="0.8"/><ellipse cx="1625" cy="275.4" rx="10.8" ry="2.16" fill="#3b5f1f" opacity="0.35"/><rect x="1623.92" y="261.6" width="2.16" height="13.799999999999999" fill="#7a5530"/><path d="M1625,244.2 C1629.2,247.2 1637.6,262.2 1635.8,267.6 C1629.8,270.0 1620.2,270.0 1614.2,267.6 C1612.4,262.2 1620.8,247.2 1625,244.2Z" fill="#2f5f22"/><ellipse cx="1623.8" cy="256.2" rx="6.0" ry="6.6000000000000005" fill="#3f7a2d" opacity="0.8"/><ellipse cx="2300" cy="320.3" rx="12.6" ry="2.52" fill="#3b5f1f" opacity="0.35"/><rect x="2298.74" y="304.2" width="2.52" height="16.099999999999998" fill="#7a5530"/><path d="M2300,283.9 C2304.9,287.4 2314.7,304.9 2312.6,311.2 C2305.6,314.0 2294.4,314.0 2287.4,311.2 C2285.3,304.9 2295.1,287.4 2300,283.9Z" fill="#2f5f22"/><ellipse cx="2298.6" cy="297.9" rx="7.0" ry="7.700000000000001" fill="#3f7a2d" opacity="0.8"/><ellipse cx="2470" cy="327.4" rx="10.8" ry="2.16" fill="#3b5f1f" opacity="0.35"/><rect x="2468.92" y="313.6" width="2.16" height="13.799999999999999" fill="#7a5530"/><path d="M2470,296.2 C2474.2,299.2 2482.6,314.2 2480.8,319.6 C2474.8,322.0 2465.2,322.0 2459.2,319.6 C2457.4,314.2 2465.8,299.2 2470,296.2Z" fill="#2f5f22"/><ellipse cx="2468.8" cy="308.2" rx="6.0" ry="6.6000000000000005" fill="#3f7a2d" opacity="0.8"/><rect x="1376" y="344" width="290" height="48" fill="#6a6f6b" stroke="#eee" stroke-width="3"/><text x="1403" y="380" font-size="31" fill="#fff" textLength="227" lengthAdjust="spacingAndGlyphs">Injection Wells</text><rect x="1689" y="588" width="235" height="48" fill="#2f7d52" stroke="#eee" stroke-width="3"/><text x="1706" y="622" font-size="31" fill="#fff" textLength="191" lengthAdjust="spacingAndGlyphs">Clean Water</text><rect x="1269" y="653" width="290" height="46" fill="#3f8fd2" stroke="#eee" stroke-width="3"/><text x="1290" y="688" font-size="31" fill="#fff" textLength="243" lengthAdjust="spacingAndGlyphs">Treatment Zone</text><rect x="873" y="779" width="346" height="52" fill="#d3303a" stroke="#eee" stroke-width="3"/><text x="893" y="817" font-size="31" fill="#fff" textLength="299" lengthAdjust="spacingAndGlyphs">Contaminated Area</text></g>
<!-- doodle_l -->
<g transform="translate(540,1040) scale(0.40038)" fill="none" stroke-linecap="round" stroke-linejoin="round"><rect x="87" y="832" width="701" height="566" rx="108" fill="#c9dbb4" stroke="#262626" stroke-width="24"/><ellipse cx="402" cy="920" rx="276" ry="118" fill="#a1dbe6" stroke="#262626" stroke-width="24"/><path d="M734,149 C731,136 734,122 735,108 C737,94 734,75 744,66 C754,56 778,51 794,49 C810,47 824,52 840,54 C856,56 877,54 888,62 C900,70 906,88 908,101 C910,115 902,129 900,143 C899,158 909,179 900,188 C891,197 863,195 847,197 C830,199 817,202 802,200 C786,199 765,198 754,189 C743,181 738,163 734,149 M760,295 C741,295 723,304 707,298 C691,292 670,274 663,257 C655,240 660,215 660,195 C660,176 656,157 661,138 C667,119 677,91 692,82 C707,73 732,81 750,82 C768,84 786,82 802,89 C818,97 836,112 845,127 C853,143 852,166 853,185 C854,204 859,224 853,242 C847,261 834,288 818,296 C802,305 778,294 760,295 M977,220 C977,245 984,278 978,299 C973,319 958,332 944,341 C931,351 915,354 900,354 C885,354 868,351 856,341 C843,332 829,318 823,297 C817,277 817,244 818,220 C818,195 817,171 824,149 C831,127 845,98 857,88 C870,78 886,88 900,89 C915,91 932,87 945,97 C959,107 976,130 981,150 C986,171 978,196 977,220 M634,219 C644,207 661,216 675,214 C688,211 703,201 715,206 C728,210 744,220 751,240 C757,259 753,296 754,321 C756,347 763,368 760,393 C757,417 746,457 736,469 C725,481 708,467 695,466 C682,466 668,473 655,467 C643,461 626,449 619,431 C613,413 617,383 617,359 C616,335 613,311 615,288 C618,264 624,232 634,219 M715,342 C704,331 703,299 700,279 C697,260 694,246 696,226 C698,207 703,174 715,162 C726,150 747,156 763,153 C779,151 794,145 811,147 C829,149 857,154 869,166 C882,178 883,202 885,220 C887,238 884,256 881,274 C878,293 876,317 865,329 C854,341 834,344 818,347 C801,350 784,348 767,347 C750,346 726,354 715,342 M830,163 C840,168 851,177 856,191 C860,204 856,227 857,245 C858,262 863,281 860,296 C857,311 848,328 839,335 C830,342 815,337 804,337 C793,337 782,342 772,337 C762,331 747,318 742,305 C737,291 743,272 742,255 C742,239 737,224 740,207 C743,191 753,167 762,159 C772,151 785,158 796,158 C807,159 820,158 830,163 M791,173 C798,171 803,174 810,174 C817,174 827,167 833,173 C838,179 840,199 842,211 C843,223 841,233 841,245 C840,257 842,274 838,283 C835,291 826,293 819,296 C813,300 806,302 800,302 C793,302 783,304 777,297 C772,290 771,273 769,261 C768,249 768,238 768,225 C769,212 768,193 772,184 C776,175 785,175 791,173 M923,64 C932,74 936,104 938,122 C940,140 938,155 936,173 C934,191 936,218 927,230 C918,243 898,243 885,247 C871,250 860,252 847,249 C834,247 814,244 805,232 C796,220 795,196 793,178 C792,161 793,144 796,126 C798,108 798,80 807,68 C815,56 833,56 846,54 C858,52 869,56 882,58 C895,60 914,53 923,64 M684,84 C693,80 701,86 710,88 C719,90 730,86 736,97 C743,107 747,134 749,153 C751,171 747,188 746,206 C745,225 749,251 744,264 C739,277 726,280 717,283 C708,286 699,282 690,281 C681,281 669,289 662,279 C655,269 651,239 650,220 C648,201 651,183 653,165 C654,146 652,122 658,109 C663,95 675,87 684,84 M905,208 C905,184 904,156 907,137 C910,117 917,100 923,92 C929,84 937,89 944,88 C951,88 958,80 965,88 C971,96 980,115 983,134 C986,153 982,180 982,202 C982,225 987,251 985,269 C982,288 973,308 966,316 C960,324 953,317 946,318 C939,320 930,331 924,324 C918,318 912,298 909,279 C906,259 906,231 905,208 M815,393 C815,407 817,427 812,437 C807,446 794,448 784,452 C774,455 764,456 753,456 C743,456 728,459 719,452 C710,446 705,429 701,416 C698,403 698,390 699,376 C700,363 701,345 707,335 C713,326 726,323 736,319 C746,316 756,313 767,313 C778,313 791,314 800,320 C808,327 814,342 817,355 C819,367 816,380 815,393 M636,413 C637,404 635,389 643,383 C651,376 671,375 687,373 C702,370 720,369 737,369 C753,369 773,368 786,373 C798,378 810,389 814,398 C818,407 812,417 812,427 C811,436 820,450 812,457 C804,464 780,468 764,470 C747,471 731,468 713,468 C696,468 673,473 660,469 C647,465 640,451 636,441 C632,432 635,423 636,413 M817,176 C804,177 791,176 778,173 C764,171 745,169 736,162 C728,155 727,140 727,129 C726,119 729,109 731,98 C734,87 734,70 742,64 C751,57 770,59 783,57 C796,56 807,54 820,55 C832,56 851,57 859,65 C866,73 865,91 867,102 C870,113 874,121 872,132 C870,142 865,159 856,166 C846,174 830,175 817,176 M652,148 C661,146 670,145 679,150 C688,156 702,164 707,179 C711,193 706,218 706,237 C706,257 708,276 707,295 C705,314 704,341 697,352 C691,363 677,360 668,361 C659,362 652,362 643,358 C633,355 619,353 614,339 C609,325 614,294 614,273 C613,253 608,234 609,216 C611,197 616,173 623,161 C630,150 642,149 652,148 M795,250 C796,234 798,207 804,196 C810,185 823,188 833,186 C843,184 853,183 863,184 C873,186 889,183 895,193 C902,203 901,228 902,244 C904,260 905,275 904,291 C904,306 907,328 901,338 C895,348 877,348 867,351 C856,354 848,359 837,358 C827,357 809,356 802,345 C796,335 798,311 796,295 C795,279 794,267 795,250 M719,429 C722,422 730,421 736,419 C741,417 746,416 751,417 C756,418 765,416 768,423 C772,430 772,447 772,459 C773,471 772,482 772,495 C771,507 772,525 769,533 C766,541 759,541 754,543 C749,544 744,545 739,544 C734,544 726,545 722,537 C719,530 718,512 717,500 C716,488 718,477 718,465 C718,454 716,437 719,429 M704,381 C709,373 720,376 728,375 C735,374 741,373 749,376 C757,379 769,381 773,392 C777,402 773,423 774,437 C775,451 778,461 777,475 C776,489 774,512 768,519 C762,527 750,520 742,520 C734,520 727,522 720,520 C713,518 704,517 700,508 C696,499 696,477 695,463 C695,449 695,438 697,424 C698,411 699,389 704,381 M690,500 L664,526 L627,570 L609,607 L567,633 L548,667 L515,700 M770,520 L788,557 L794,597 L809,646 L832,688 L841,724 L858,776 L878,812 M700,529 L652,585 L595,640 L534,702 L581,651 L621,600 L678,543 L643,607 L608,659 L574,727 L595,680 L636,623 L661,565 L639,630 L620,700 L598,758 L626,704 L645,647 L663,582 L653,652 L635,721 L614,786 L617,726 L633,664 L644,613 L643,672 L646,741 L637,803 M697,563 L663,638 L634,701 L599,766 L628,707 L677,640 L711,581 L679,641 L651,701 L629,768 L659,715 L690,654 L720,584 L696,655 L690,716 L668,795 L687,721 L706,660 L726,587 L713,661 L704,731 L691,809 M732,562 L730,632 L715,703 L718,782 L728,709 L736,644 L736,568 L745,632 L747,709 L743,783 L742,721 L755,662 L751,594 L767,655 L766,714 L783,773 L768,715 L761,655 L759,595 M763,539 L773,614 L786,687 L798,751 L787,688 L791,641 L777,577 L790,643 L811,704 L827,768 L807,712 L805,671 L782,611 L799,664 L829,726 L854,783 L824,729 L811,690 L784,641 M652,598 L630,622 L618,632 L592,659 L604,659 L608,649 L624,645 L605,671 L598,690 L572,717 L592,705 L596,689 L611,684 L589,708 L581,733 L566,753 M660,570 L678,582 L697,588 L720,600 L740,570 L690,575 M520,690 L549,668 L571,659 L600,640 M760,835 L787,826 L806,820 L835,815 M640,790 L659,800 L664,818 L686,834 L700,840 M216,452 C219,458 217,464 215,470 C213,476 212,484 204,489 C195,495 178,499 164,500 C150,502 134,499 118,498 C103,498 83,499 71,496 C60,492 53,484 50,478 C46,472 51,466 51,460 C51,454 44,445 52,440 C59,435 81,433 96,431 C111,429 126,429 142,430 C158,431 180,431 193,435 C205,438 212,446 216,452 M230,520 C229,531 232,546 227,555 C222,563 209,567 200,570 C192,572 183,570 173,568 C164,567 149,567 143,561 C136,556 135,545 133,535 C130,526 128,515 128,505 C128,494 128,481 133,473 C138,465 150,458 159,455 C168,453 177,457 187,458 C196,459 210,455 217,460 C225,465 229,480 231,490 C233,500 231,509 230,520 M246,505 C236,499 228,486 224,475 C220,464 222,450 221,438 C221,426 217,412 222,401 C227,390 240,379 251,374 C262,369 275,372 287,372 C299,371 313,368 323,373 C334,379 345,393 349,404 C353,416 348,429 347,442 C347,454 352,469 347,479 C342,489 328,497 318,502 C307,507 295,509 283,510 C271,510 256,511 246,505 M271,546 C264,538 263,523 261,512 C258,502 255,492 257,482 C258,471 263,456 271,449 C279,441 293,437 304,435 C315,434 325,438 336,440 C347,442 362,439 370,446 C378,453 382,471 383,482 C384,493 379,502 377,513 C375,523 375,539 369,546 C362,554 347,556 336,558 C326,559 315,557 304,555 C293,553 279,553 271,546 M389,501 C378,501 363,500 354,496 C346,492 340,483 338,477 C336,470 341,464 342,458 C343,451 338,443 344,438 C350,433 368,429 380,428 C391,427 401,431 412,431 C423,432 436,428 444,432 C453,436 459,447 462,453 C465,460 462,465 460,472 C459,479 459,489 452,494 C445,498 431,498 421,499 C410,500 400,501 389,501 M550,445 C550,452 554,462 549,468 C545,474 532,478 522,480 C512,482 502,481 491,481 C481,481 469,485 461,482 C452,479 445,469 441,462 C437,455 436,447 437,439 C437,432 437,423 442,417 C447,412 458,408 468,405 C477,402 488,400 499,400 C510,400 524,402 532,406 C540,409 545,416 548,422 C551,429 550,437 550,445 M545,449 C543,457 536,465 531,468 C525,471 518,467 512,467 C506,466 498,470 493,465 C488,460 484,446 482,437 C480,427 481,418 482,407 C482,397 481,384 485,375 C488,366 495,357 501,354 C506,352 512,356 518,357 C523,358 530,355 535,360 C540,365 545,376 547,385 C548,395 547,406 546,417 C546,428 548,441 545,449 M508,594 C502,598 488,602 477,603 C466,604 453,601 441,600 C429,600 413,603 404,600 C396,598 391,589 388,584 C385,579 386,574 386,568 C386,562 381,554 387,550 C394,545 413,543 425,542 C437,541 447,542 459,542 C471,543 488,542 497,545 C505,548 509,555 512,560 C515,565 516,571 515,576 C515,582 515,589 508,594 M430,504 C424,505 419,506 413,505 C408,505 400,504 396,500 C391,496 390,487 389,481 C388,475 391,469 391,463 C392,456 390,446 393,442 C396,437 405,437 411,436 C416,434 421,434 427,435 C432,435 439,436 443,440 C446,444 448,453 449,459 C450,465 450,471 450,477 C449,483 451,493 448,498 C445,502 436,503 430,504 M449,458 C450,452 448,445 450,441 C453,436 461,432 466,431 C471,429 476,431 482,430 C488,430 495,427 500,430 C505,432 509,440 511,445 C512,451 511,456 510,462 C510,468 511,475 508,479 C505,483 500,486 495,488 C490,490 484,490 478,490 C472,490 465,492 460,490 C455,487 452,479 450,474 C448,468 449,463 449,458 M209,433 C223,433 242,432 254,434 C265,436 271,441 276,445 C281,449 284,453 285,457 C285,462 286,467 277,471 C269,474 248,477 234,478 C220,479 206,477 192,476 C177,476 160,477 148,475 C136,473 124,469 120,465 C116,461 121,457 122,453 C123,448 119,443 126,440 C133,437 152,433 166,432 C180,431 194,432 209,433 M409,504 C404,508 394,507 387,508 C380,509 375,511 368,510 C362,508 351,506 347,501 C343,495 345,484 345,477 C344,470 343,464 344,457 C345,451 347,442 351,437 C356,433 366,431 373,431 C380,430 385,430 391,432 C398,434 406,437 410,442 C413,447 412,455 414,462 C415,469 418,476 417,483 C416,490 414,500 409,504 M370,520 L384,535 L406,545 L420,560 M520,500 L504,517 L481,523 L470,540 M385,585 L362,610 L338,648 L312,677 L292,709 L270,741 L243,772 L228,800 M495,600 L497,634 L510,656 L514,686 L524,716 L531,741 L535,770 M398,605 L351,664 L312,721 L258,780 L305,724 L332,677 L380,619 L350,679 L314,732 L284,787 L309,737 L335,679 L363,634 L340,681 L323,731 L306,787 L329,750 L343,706 L353,667 L350,706 L346,738 L332,784 L340,755 L339,707 L355,674 M407,617 L390,675 L360,738 L340,798 L370,738 L388,691 L413,626 L400,678 L403,744 L388,795 L398,747 L407,707 L425,652 L426,694 L429,738 L421,794 L422,757 L435,711 L434,664 M324,643 L308,660 L303,688 L297,707 L297,695 L310,677 L310,665 L299,688 L282,727 L273,749 L285,725 L300,713 L303,696 M470,600 L470,632 L465,665 L467,694 L471,724 L468,760 M488,600 L487,627 L488,648 L491,672 L492,700" stroke="#262626" stroke-width="7"/><path d="M141,1144 L490,1083 L143,1175 L581,1073 L132,1229 L638,1057 L152,1284 L700,1050 M180,1235 L671,1108 L178,1270 L681,1128 L198,1293 L718,1163 L231,1320 L730,1177 L242,1360 M287,1333 L733,1180 L377,1328 L730,1201 L433,1342 L752,1245 L508,1338 M141,1062 L381,1086 L223,1075 L455,1080 L325,1113 M481,1193 L709,1008 L545,1243 L714,1050 L597,1313 L743,1088 M147,1196 L376,1223 L181,1236 L519,1264 L228,1271 L647,1277 M133,1301 L425,1175 L184,1308 L453,1219 L254,1337 M115,1020 L124,1059 L121,1107 L130,1150 L100,1100 L120,1040 M160,1210 L166,1239 L187,1268 L187,1308 L200,1330 M560,1280 L582,1239 L598,1216 L620,1180" stroke="#262626" stroke-width="6.5"/><path d="M245,883 C248,887 249,900 250,908 C250,915 252,924 248,928 C245,933 237,934 231,935 C226,935 220,933 216,929 C212,925 209,917 209,911 C208,905 212,896 215,892 C218,887 223,884 228,883 C233,882 241,879 245,883 M215,907 L232,923 L235,923 L254,934 M250,941 C246,940 241,939 237,935 C233,931 228,923 229,917 C230,912 237,907 241,903 C246,899 251,894 256,895 C261,895 267,900 270,906 C273,911 277,920 276,925 C275,931 268,937 264,939 C259,942 255,942 250,941 M238,915 L259,907 L270,906 L278,900 M294,915 C292,920 289,924 285,927 C282,929 275,931 271,930 C267,929 263,926 260,921 C258,917 257,909 258,904 C259,899 261,896 265,894 C269,892 276,891 281,892 C286,892 295,895 297,899 C299,903 296,911 294,915 M262,904 L269,908 L285,914 L301,928 M278,882 C280,876 287,869 293,868 C298,866 305,870 310,873 C314,876 319,879 321,885 C323,891 325,902 323,909 C320,915 311,922 306,924 C301,926 297,924 292,921 C288,918 283,911 281,904 C278,898 276,888 278,882 M285,890 L298,885 L304,886 L324,887 M328,926 C322,926 315,924 310,920 C306,916 302,909 301,902 C301,895 303,884 307,879 C311,874 320,873 326,873 C332,874 339,877 344,882 C348,886 350,892 351,899 C351,905 351,916 347,921 C343,925 334,927 328,926 M308,899 L319,887 L337,902 L356,891 M368,931 C362,933 352,931 346,928 C340,926 335,922 333,916 C330,910 328,898 331,891 C333,885 341,879 347,877 C353,875 361,876 368,878 C374,880 383,883 386,890 C388,896 384,909 381,915 C378,922 374,929 368,931 M338,880 L355,877 L368,892 L388,885 M377,884 C382,882 388,880 393,881 C397,882 401,886 403,890 C406,895 409,902 407,906 C406,911 400,916 395,919 C390,921 381,924 377,922 C372,921 369,913 366,908 C364,903 359,897 361,893 C363,889 371,886 377,884 M370,910 L387,919 L404,903 L411,909 M397,932 C393,927 388,917 388,910 C388,903 392,896 396,891 C401,887 408,883 414,883 C420,883 427,888 431,892 C435,897 435,903 436,909 C437,914 440,920 437,925 C433,930 422,937 416,938 C409,939 402,936 397,932 M394,908 L419,910 L419,893 L445,892 M441,894 C447,894 454,897 459,900 C465,903 471,908 473,914 C475,919 475,928 471,933 C468,938 458,942 451,944 C444,946 436,946 431,943 C425,939 419,930 418,924 C417,917 421,910 425,905 C428,900 435,895 441,894 M427,906 L433,907 L468,914 L475,904 M458,893 C462,890 468,894 474,895 C479,896 488,897 491,900 C494,903 490,909 490,915 C490,921 493,933 490,937 C487,940 477,937 472,936 C467,936 462,936 459,932 C456,928 452,920 451,914 C451,907 454,896 458,893 M457,905 L478,909 L482,924 L498,930 M494,899 C499,898 509,903 514,905 C519,908 524,910 526,915 C528,920 529,929 527,934 C525,939 517,943 512,945 C506,947 499,949 494,947 C489,945 483,938 481,933 C478,928 478,921 480,915 C482,910 488,901 494,899 M482,923 L495,913 L509,927 L535,918 M506,893 C505,888 507,882 512,878 C516,874 525,869 531,869 C537,869 544,874 549,878 C553,881 556,884 557,889 C558,893 557,899 554,903 C550,907 543,912 536,913 C530,913 520,910 515,906 C510,903 507,897 506,893 M517,907 L525,896 L539,896 L561,902 M551,923 C547,920 542,920 541,915 C540,909 541,896 543,889 C544,881 545,871 549,869 C553,866 562,870 567,873 C573,876 579,879 581,886 C583,893 583,906 581,914 C578,921 571,932 566,933 C561,935 555,926 551,923 M544,895 L552,908 L561,907 L583,910 M569,881 C573,879 583,879 588,879 C594,880 599,881 602,885 C604,889 605,898 604,904 C603,910 600,919 596,922 C592,926 585,926 580,925 C574,924 566,919 564,915 C561,910 564,902 564,897 C565,891 565,884 569,881 M567,883 L580,876 L596,888 L610,893 M210,880 L210,907 L218,930 L215,960 L260,965 M270,860 L288,851 L300,845 M230,940 L282,929 L334,935 L380,928 L413,937 L454,925 L512,939 L549,919 L600,925 M300,960 L340,963 L378,945 L427,936 L466,926 L526,923 L560,905" stroke="#2c3a40" stroke-width="6.5"/></g><path d="M681.6,1670.8 L683.8,1674 L684.6,1676.6" stroke="#555" stroke-width="2.6" fill="none" stroke-linecap="round"/>
<!-- arrow_b -->
<polygon points="982.6,1447.9 1422.2,1447.9 1422.2,1427.2 1863,1489.8 1422.2,1552.9 1422.2,1532.2 982.6,1532.2" fill="#f6e1a0" stroke="#262626" stroke-width="9.4" stroke-linejoin="round"/>
<!-- pin -->
<g transform="translate(1410,1480) scale(0.069013)"><path d="M720,1222 L455,940 A360,360 0 1 1 985,940 Z" fill="#a8286f"/><path d="M440,550 L475,520 L540,470 L600,460 L640,500 L700,600 L780,700 L860,770 L995,835 L990,852 L880,842 L790,815 L775,925 L710,925 L715,900 L745,890 L740,850 L690,820 L640,870 L610,925 L545,925 L555,900 L590,895 L610,830 L590,760 L565,680 L545,665 L505,680 L495,660 L540,640 L545,615 L520,600 L540,575 L520,562 L450,567 Z" fill="#fff"/><circle cx="565" cy="498" r="9" fill="#a8286f"/></g>
<!-- doodle_r -->
<g transform="translate(1900,1180) scale(0.30355)" fill="none" stroke-linecap="round" stroke-linejoin="round"><rect x="101" y="551" width="933" height="778" rx="140" fill="#c9dbb4" stroke="#262626" stroke-width="32"/><path d="M430,330 L403,380 L378,429 L348,473 L305,509 L285,555 M440,340 L427,375 L404,396 L373,431 L353,469 L330,500 M450,340 L430,367 L426,414 L425,432 L416,465 L400,505 M465,330 L462,353 L445,397 L444,414 L455,457 L440,480 M480,330 L477,369 L484,394 L479,429 L490,459 L488,480 M455,300 L456,328 L438,357 L427,387 L423,430 L420,460 M470,290 L460,326 L467,350 L476,386 L466,418 L470,450 M440,360 L428,373 L418,394 L397,433 L366,454 L360,470 M735,340 L731,374 L723,398 L723,445 L721,474 L731,510 L722,535 M760,330 L756,359 L757,398 L749,429 L758,462 L744,495 L750,520 M780,180 L775,241 L785,313 L782,377 L787,430 L785,492 L790,560 M800,330 L793,365 L803,420 L795,445 L808,494 L798,530 L800,575 M825,230 L828,295 L828,349 L823,417 L824,470 L839,524 L835,590 M845,340 L851,383 L851,416 L845,446 L848,489 L853,518 L858,555 M770,360 L778,396 L778,419 L770,454 L770,477 L768,504 L770,540 M790,580 L796,589 L813,585 L814,582 L815,583 L835,594 L838,590" stroke="#f0b43a" stroke-width="13"/><ellipse cx="547" cy="675" rx="246" ry="189" fill="#a8dce6" stroke="#262626" stroke-width="32"/><path d="M307,304 C302,294 279,266 274,246 C268,226 271,205 275,185 C280,165 283,140 301,126 C320,112 359,103 387,101 C416,98 448,104 470,112 C493,121 511,135 523,151 C535,168 541,191 543,212 C546,232 548,258 536,276 C525,293 499,310 474,318 C450,325 418,323 391,320 C364,316 332,309 314,296 C295,284 287,264 280,246 C273,228 267,207 273,191 C279,175 298,160 316,148 C335,136 361,121 385,118 C408,114 435,119 457,126 C480,133 510,145 521,160 C531,175 521,196 521,214 C521,233 529,254 519,269 C509,284 482,297 460,304 C439,311 411,318 389,309 C367,299 341,266 327,248 C312,230 306,219 299,203 C293,188 286,171 290,156 C294,141 307,123 323,114 C340,104 367,102 388,100 C409,98 432,97 451,103 C469,108 488,120 500,132 C511,145 515,161 517,176 C519,191 520,210 510,225 C499,239 473,257 453,262 C433,268 418,259 391,259 C365,258 312,268 293,261 C274,255 279,236 276,221 C273,206 271,188 275,173 C278,158 284,139 298,129 C312,118 347,113 356,109 M232,280 C229,272 213,247 211,231 C209,214 204,196 220,182 C235,169 276,153 303,149 C329,146 353,157 380,160 C406,164 445,161 462,171 C479,180 477,201 483,217 C490,233 508,250 501,265 C495,279 467,293 444,303 C421,314 391,324 364,327 C338,330 308,329 285,321 C261,312 234,290 224,275 C215,260 227,245 229,229 C230,214 219,196 233,184 C247,172 288,163 313,158 C339,153 362,151 387,154 C412,157 443,165 462,176 C481,186 499,201 502,215 C505,230 489,247 479,262 C470,278 463,300 445,308 C427,316 397,310 372,309 C348,308 322,310 297,303 C272,296 238,284 223,269 C209,255 205,233 208,215 C211,197 225,174 242,160 C259,146 285,136 311,132 C337,127 369,131 398,134 C427,137 465,140 485,151 C505,162 510,183 516,199 C522,216 529,234 520,250 C512,267 486,287 463,298 C439,310 409,319 380,319 C351,319 318,305 288,298 C259,290 217,278 203,275 M343,185 C346,175 351,142 363,124 C375,106 395,84 414,76 C434,68 458,74 481,75 C504,76 529,70 550,80 C571,90 599,118 608,136 C617,155 607,173 602,191 C597,210 593,231 577,245 C562,259 531,272 507,275 C484,278 456,269 435,264 C413,259 391,258 378,247 C365,236 362,216 358,199 C355,183 349,163 359,147 C368,132 397,113 416,106 C435,98 452,100 472,101 C493,102 524,101 540,110 C555,119 557,140 564,156 C571,171 585,187 584,202 C583,218 571,238 556,250 C541,262 515,272 495,275 C475,277 457,271 438,265 C420,260 411,253 382,242 C354,230 282,214 266,196 C250,178 274,152 287,132 C299,113 317,89 340,79 C363,69 399,72 425,72 C452,72 480,67 500,78 C521,89 539,115 550,136 C560,157 566,183 564,206 C562,228 555,255 537,270 C519,286 483,294 456,299 C430,304 403,310 377,303 C351,295 313,276 300,257 C287,238 299,209 298,187 C297,165 284,143 292,124 C301,106 341,85 351,77 M497,325 C487,329 456,342 433,345 C410,348 380,347 359,343 C339,339 321,338 308,321 C295,305 281,270 280,245 C279,219 291,191 301,169 C311,148 323,126 341,117 C360,107 390,109 413,112 C436,116 463,124 481,137 C498,151 512,171 518,191 C525,212 529,235 521,262 C513,288 490,332 471,351 C452,371 429,374 407,378 C385,383 361,384 340,377 C319,370 291,355 280,338 C270,321 278,295 279,275 C279,255 277,235 283,216 C290,198 302,173 320,164 C337,156 367,167 389,167 C411,167 435,154 452,164 C469,174 485,207 491,228 C498,248 496,275 490,289 C485,304 471,308 457,314 C442,320 420,325 402,326 C384,328 364,328 347,322 C330,317 310,307 300,293 C289,279 286,257 282,239 C279,220 274,200 281,183 C288,166 309,144 327,136 C345,127 368,130 389,133 C410,136 436,142 452,153 C467,163 477,180 482,197 C487,214 491,238 484,254 C478,270 451,287 444,294 M211,251 C208,245 196,226 196,214 C196,201 204,188 211,175 C219,163 227,145 240,140 C253,134 272,139 289,142 C305,145 329,150 340,157 C350,164 350,174 353,185 C356,196 361,211 360,225 C358,239 353,260 342,269 C332,278 312,276 297,276 C282,277 269,272 252,271 C235,269 207,275 196,267 C184,258 185,235 184,219 C183,203 184,185 191,171 C199,157 213,142 228,136 C244,130 266,134 286,135 C307,137 337,137 352,145 C368,154 373,171 378,185 C383,200 384,218 380,234 C376,249 365,265 352,278 C338,290 317,304 298,309 C279,313 259,316 237,305 C216,295 183,262 170,245 C157,228 162,216 161,201 C159,186 154,166 162,154 C169,141 190,131 206,127 C222,122 240,124 256,126 C272,127 290,128 302,135 C314,143 323,164 327,170 M541,130 C547,134 568,141 574,152 C580,162 577,181 578,194 C578,208 583,222 577,233 C570,244 552,256 540,260 C528,265 515,262 502,261 C489,259 474,258 463,251 C453,243 445,228 441,214 C436,201 435,185 439,171 C442,158 450,142 461,133 C472,124 485,115 503,116 C521,118 550,133 568,143 C587,153 607,162 614,177 C621,191 612,213 610,231 C609,248 610,269 602,283 C595,298 581,310 567,317 C552,325 532,333 514,330 C496,327 472,313 461,300 C449,288 449,272 445,255 C442,238 438,217 440,200 C442,182 445,160 457,150 C470,139 500,139 515,136 C529,133 534,126 544,131 C555,136 571,154 577,166 C584,178 582,190 582,203 C581,216 583,232 577,243 C571,255 557,269 545,274 C533,278 519,273 505,270 C491,268 470,261 462,259 M308,200 C307,191 299,164 302,147 C304,130 305,112 321,98 C337,84 373,70 396,66 C419,61 439,68 461,73 C483,78 514,82 529,95 C543,107 546,132 547,149 C549,166 547,182 539,197 C530,212 516,229 497,237 C478,245 449,243 425,243 C401,242 371,242 356,234 C342,227 340,212 338,198 C336,183 341,163 345,148 C348,133 346,118 359,107 C372,97 402,92 425,86 C447,80 473,70 493,73 C514,75 536,87 549,100 C561,113 566,134 571,151 C576,168 585,187 577,202 C570,216 548,230 527,238 C506,245 478,248 454,248 C430,247 401,247 383,234 C365,220 353,185 346,168 C338,151 338,145 340,133 C342,121 347,105 357,96 C367,86 384,81 399,79 C415,76 435,79 451,82 C467,85 486,90 495,99 C504,108 505,129 507,135 M351,235 C357,234 377,226 390,227 C404,228 422,235 434,243 C445,251 455,263 459,274 C462,285 460,296 456,307 C452,319 446,335 436,344 C426,352 408,356 394,358 C379,360 363,360 349,355 C336,350 319,340 313,329 C307,319 313,305 312,293 C312,281 301,268 310,259 C319,249 350,241 367,236 C384,230 395,228 411,228 C427,229 451,229 464,238 C476,247 483,266 485,280 C487,294 481,308 477,322 C473,335 472,352 462,362 C451,371 430,377 414,378 C398,379 382,373 368,367 C354,362 339,356 330,345 C320,334 312,317 310,303 C309,288 321,276 323,259 C325,243 315,214 325,206 C334,197 362,206 380,209 C397,211 421,218 429,220 M422,141 C421,148 417,167 417,180 C416,194 424,212 418,223 C412,234 392,241 378,247 C364,253 348,257 332,257 C317,257 294,255 284,246 C273,237 273,219 269,205 C264,191 253,176 256,162 C258,147 272,130 284,120 C296,110 313,105 328,103 C343,102 359,101 374,109 C389,118 410,143 419,156 C427,169 423,177 424,188 C425,198 430,209 425,219 C420,229 407,242 396,247 C384,253 369,252 355,251 C342,251 327,250 316,242 C306,235 297,220 293,208 C289,197 288,185 292,175 C296,165 309,153 319,146 C329,139 341,135 353,132 C365,129 378,130 390,131 C403,131 421,129 427,136 C434,143 430,160 430,173 C429,186 433,202 427,214 C421,226 407,241 395,245 C382,249 365,239 350,237 C335,235 313,235 305,234 M432,328 C426,323 404,311 395,299 C387,288 383,274 381,260 C378,246 375,229 380,216 C386,204 401,191 414,185 C426,178 442,175 455,175 C468,175 483,177 494,184 C505,191 517,203 522,216 C527,229 524,245 522,260 C521,274 518,291 510,302 C503,312 489,317 478,323 C467,329 457,337 447,336 C437,335 424,326 417,316 C409,306 403,288 402,276 C400,263 401,250 406,239 C410,227 419,213 428,208 C438,202 453,205 466,205 C479,205 497,203 507,209 C518,215 525,230 528,241 C532,253 529,266 528,278 C527,290 529,305 521,314 C514,323 494,328 483,331 C472,333 467,335 455,330 C444,325 420,311 412,300 C404,288 408,266 407,260 M694,348 C690,334 671,292 673,264 C674,236 686,205 703,183 C720,160 746,136 773,129 C800,123 836,136 866,141 C897,147 932,148 954,164 C975,179 986,210 993,234 C1001,258 1006,283 997,307 C989,332 966,365 942,380 C918,395 885,394 855,398 C824,401 792,417 759,402 C725,388 670,338 654,309 C637,281 661,259 661,233 C662,207 644,171 658,152 C673,133 718,124 747,118 C776,111 802,110 832,113 C861,115 903,118 925,134 C947,149 959,180 965,204 C970,229 966,258 958,280 C949,303 939,324 916,338 C894,353 853,365 823,368 C793,371 760,362 736,357 C711,351 688,352 676,335 C664,318 665,280 664,255 C663,229 654,202 669,180 C683,158 724,134 753,123 C782,113 813,114 844,118 C875,122 914,131 937,148 C960,165 976,196 981,221 C986,246 976,276 966,301 C957,326 945,357 923,371 C902,384 867,380 837,383 C808,385 768,394 746,386 C725,378 717,354 708,334 C698,314 691,290 690,269 C689,247 688,226 702,208 C717,189 753,167 777,160 C801,153 823,161 848,165 C873,169 913,180 926,183 M747,301 C745,293 739,268 737,251 C736,233 730,213 738,198 C745,183 764,167 783,159 C801,150 826,149 847,147 C869,145 892,138 909,147 C926,156 941,183 950,200 C959,218 965,236 962,254 C960,273 948,299 934,311 C920,324 898,327 877,330 C857,333 836,330 811,327 C786,325 741,327 726,317 C710,307 723,284 721,268 C719,251 708,230 715,216 C722,201 747,189 765,180 C783,172 802,167 823,167 C844,168 872,173 889,182 C906,191 919,206 926,221 C933,236 934,255 931,271 C929,288 924,308 910,320 C897,331 872,335 853,340 C833,345 813,355 791,348 C769,341 736,317 722,299 C707,282 706,261 703,242 C701,224 700,204 709,188 C718,172 739,152 757,145 C775,137 797,144 816,144 C836,144 857,138 874,146 C891,154 911,174 919,191 C927,207 925,227 922,245 C918,262 912,283 899,295 C887,307 866,313 846,317 C827,321 806,320 784,318 C762,317 728,318 715,307 C702,297 709,273 706,255 C704,237 702,208 701,199 M701,210 C708,201 727,170 748,160 C770,151 803,155 830,155 C857,155 890,148 910,159 C930,170 941,200 948,220 C955,240 953,259 951,279 C949,299 953,323 938,338 C923,353 886,366 860,369 C833,373 805,366 780,360 C755,354 722,347 709,333 C696,318 704,289 703,273 C701,256 692,248 701,233 C709,219 734,194 755,185 C776,177 803,181 826,183 C849,185 876,188 893,197 C910,206 921,221 929,238 C936,254 941,278 938,296 C935,315 926,334 911,349 C897,363 872,376 851,381 C829,386 804,386 782,380 C760,373 734,356 721,341 C708,326 715,308 705,289 C696,269 664,246 663,226 C663,207 683,179 703,170 C724,162 759,174 786,176 C813,179 846,176 867,186 C888,197 901,218 911,237 C920,255 928,277 924,297 C920,317 906,340 888,356 C870,372 841,389 816,393 C791,397 752,382 739,379 M760,214 C763,205 763,174 775,162 C787,150 813,146 832,142 C851,137 870,134 888,135 C906,136 927,139 940,150 C952,162 958,187 961,205 C963,222 961,241 954,257 C948,273 937,290 922,299 C908,308 886,311 868,311 C850,311 831,307 814,300 C798,292 777,277 769,266 C760,255 763,246 763,233 C764,220 763,200 770,190 C778,180 795,176 809,173 C823,170 841,171 857,173 C872,175 891,178 901,187 C910,196 911,213 914,226 C916,239 921,253 917,265 C913,277 902,293 890,301 C877,308 857,310 842,312 C826,313 809,316 796,309 C782,303 763,286 758,273 C753,260 765,243 767,229 C770,216 764,202 772,191 C780,180 802,167 817,163 C833,160 848,168 864,171 C880,174 901,175 912,183 C922,192 926,208 927,222 C929,235 925,252 920,265 C915,277 908,290 896,297 C884,304 865,306 849,307 C833,308 815,310 801,303 C788,297 777,286 767,269 C757,252 747,213 743,202 M848,251 C847,256 846,272 839,278 C832,285 816,290 805,291 C794,293 782,294 773,290 C763,285 752,276 748,267 C743,258 745,246 745,235 C744,224 740,210 744,201 C748,192 761,186 770,182 C780,178 792,176 803,177 C813,178 826,180 834,187 C843,194 849,209 853,218 C857,227 863,232 861,241 C859,249 848,263 840,270 C831,277 820,279 809,281 C798,283 785,285 774,282 C763,279 749,270 743,261 C737,251 740,238 740,226 C740,214 737,200 742,190 C747,180 761,169 772,165 C782,161 795,162 807,164 C819,165 836,167 844,174 C851,181 851,195 853,206 C856,217 860,232 858,242 C857,253 852,264 845,270 C838,276 824,277 814,278 C804,280 793,282 783,279 C773,276 760,263 755,260 M945,403 C936,404 908,410 890,410 C872,409 853,409 837,400 C821,391 802,372 794,355 C786,338 787,318 790,299 C793,280 799,254 812,241 C825,228 849,222 868,219 C888,216 908,217 927,222 C946,227 970,234 981,249 C993,263 996,289 996,308 C997,326 996,346 984,361 C972,377 944,394 925,401 C905,409 886,406 867,405 C849,405 828,408 812,398 C797,389 782,364 775,346 C769,329 771,312 774,294 C777,276 783,250 795,238 C808,226 830,227 849,222 C867,217 887,204 907,208 C926,212 952,231 964,246 C977,262 981,284 981,301 C981,319 973,337 963,354 C953,371 938,393 921,402 C904,412 882,412 862,411 C842,410 811,397 801,395 M802,357 C793,357 768,361 751,359 C734,358 713,359 699,349 C685,339 673,317 669,298 C665,279 672,254 675,233 C679,213 679,190 690,175 C700,161 721,150 738,145 C754,141 774,142 790,149 C805,156 823,170 831,187 C840,204 838,229 841,250 C844,272 856,299 847,315 C838,331 805,338 787,345 C770,352 757,355 742,355 C728,355 711,356 700,346 C689,336 679,311 675,294 C670,276 674,258 675,240 C677,223 673,201 683,189 C692,177 716,171 732,168 C748,166 764,168 778,174 C792,179 806,188 814,201 C822,214 827,235 828,254 C828,272 821,296 816,312 C811,328 808,341 797,349 C786,356 765,357 750,357 C735,358 714,354 706,353" stroke="#78a64b" stroke-width="10.5"/><path d="M193,638 L168,685 L195,719 L171,762 L195,799 L165,839 L203,877 L170,922 L200,955 L173,1004 L194,1034 L178,1086 L196,1114 L178,1157 L205,1193 M229,754 L200,810 L236,857 L213,903 L246,941 L214,992 L248,1034 L225,1086 L256,1139 L231,1179 M275,729 L235,768 L253,815 L217,853 L229,915 L199,948 L211,1001 M338,848 L330,892 L361,944 L350,991 M282,1039 L267,1081 L282,1109 L267,1144 L295,1177 L269,1217 M324,1083 L320,1182 L343,1256 M466,906 L429,939 L455,983 L412,1010 L424,1065 L400,1094 L415,1134 L374,1156 L388,1197 M512,923 L513,1023 M632,877 L603,914 L625,965 L586,996 L609,1043 L565,1081 L594,1127 L553,1168 L580,1225 L545,1262 M492,1056 L499,1111 L546,1152 L567,1212 L606,1240 M490,1217 L546,1177 L587,1132 L639,1106 M689,986 L680,1029 L704,1069 L688,1121 L711,1159 M657,1299 L687,1255 L679,1212 L717,1172 L719,1127 L748,1094 M875,640 L843,672 L858,705 L824,735 L842,774 M919,590 L896,625 L917,676 L887,710 L918,744 L889,785 L918,836 M949,648 L926,695 L946,734 L918,786 L949,822 L918,868 L943,915 L919,956 L946,1004 M1024,744 L970,780 L1008,825 L967,863 L996,914 L955,956 L986,1000 L944,1031 L973,1084 L924,1124 L956,1167 L918,1208 L952,1252 M1040,880 L1022,952 L1022,1013 M881,855 L866,912 L869,964 L860,1005 M826,1030 L827,1075 L850,1106 L838,1141 M803,946 L789,983 L806,1030 L793,1077 L812,1123 M888,1149 L888,1168 M115,905 L146,863 L186,842 L202,805 L222,801 L260,760 M730,1025 L778,994 L840,966 L889,945 L946,917 L990,890 M750,1225 L771,1203 L794,1180 L820,1170 M485,1225 L499,1198 L522,1186 L545,1160 M375,715 L381,726 L380,740" stroke="#78a64b" stroke-width="11.5"/></g>
<!-- names -->
<text x="935.4" y="1636.7" font-size="63.5" font-weight="normal" fill="#3c4043" textLength="300.9" lengthAdjust="spacingAndGlyphs" stroke="#3c4043" stroke-width="0.9">A.Steeves</text>
<text x="1472.4" y="1636.7" font-size="63.5" font-weight="normal" fill="#3c4043" textLength="247.8" lengthAdjust="spacingAndGlyphs" stroke="#3c4043" stroke-width="0.9">M.Wong</text>
<text x="2008.2" y="1633.7" font-size="63.5" font-weight="normal" fill="#3c4043" textLength="371.1" lengthAdjust="spacingAndGlyphs" stroke="#3c4043" stroke-width="0.9">A. Nohesara</text>
<rect x="0" y="1630" width="3018" height="66" fill="url(#botfade)"/>
<rect x="0" y="0" width="2.8" height="1698" fill="#dadbe0"/>
<rect x="0" y="0" width="3018" height="1" fill="#d9dade"/>
<rect x="3013" y="0" width="4" height="1693" fill="#cfd0d5"/>
<rect x="0" y="1694" width="3018" height="4" fill="#dcdde1"/>
</svg>
</body></html>
